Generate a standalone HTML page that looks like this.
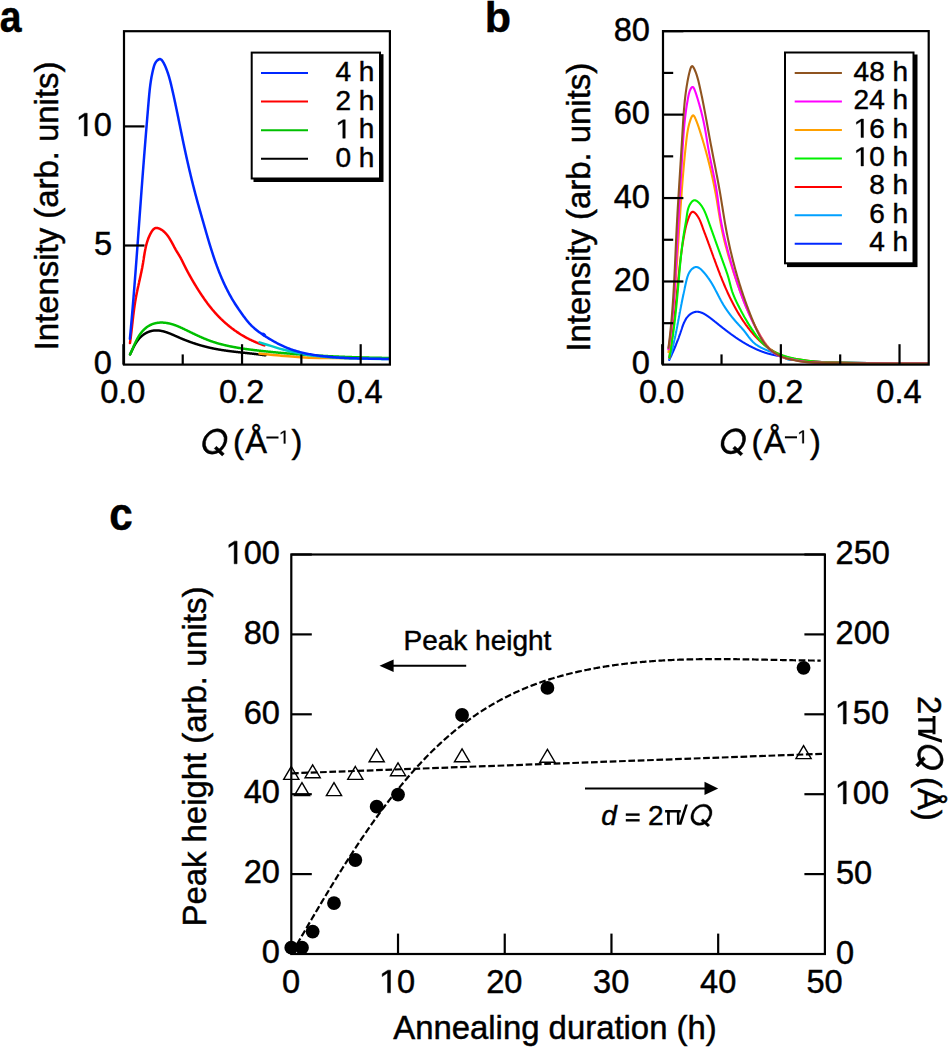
<!DOCTYPE html>
<html><head><meta charset="utf-8"><style>
html,body{margin:0;padding:0;background:#fff;}
svg{display:block;}
text{font-family:"Liberation Sans", sans-serif;fill:#000;white-space:pre;stroke:#000;stroke-width:0.45;}
.g1{stroke:#000;stroke-width:30.7;}
.gq{stroke:#000;stroke-width:15.0;}
</style></head><body>
<svg width="950" height="1047" viewBox="0 0 950 1047">
<rect width="950" height="1047" fill="#fff"/>
<g transform="matrix(0.91,0,0,1.05,0.090,-1.580)">
<text x="-0.26" y="31.60" font-size="43" font-weight="bold" >a</text>
</g>
<text x="484.77" y="31.60" font-size="43" font-weight="bold" >b</text>
<g transform="matrix(0.98,0,0,1.07,2.218,-37.072)">
<text x="109.22" y="529.60" font-size="43" font-weight="bold" >c</text>
</g>
<g fill="none" stroke-linejoin="round" stroke-linecap="round">
<path d="M130.06,354.39 L130.17,354.16 L130.28,353.94 L130.38,353.71 L130.49,353.49 L130.60,353.26 L130.71,353.03 L130.81,352.81 L130.92,352.58 L131.03,352.35 L131.14,352.12 L131.24,351.89 L131.35,351.67 L131.46,351.44 L131.57,351.21 L131.68,350.98 L131.79,350.75 L131.90,350.52 L132.00,350.29 L132.11,350.06 L132.22,349.83 L132.33,349.60 L132.45,349.37 L132.56,349.15 L132.67,348.92 L132.78,348.69 L132.89,348.46 L133.01,348.23 L133.12,348.00 L133.24,347.77 L133.35,347.55 L133.47,347.32 L133.58,347.09 L133.70,346.87 L133.82,346.64 L133.94,346.41 L134.06,346.19 L134.18,345.96 L134.30,345.74 L134.42,345.52 L134.54,345.29 L134.67,345.07 L134.79,344.85 L134.92,344.63 L135.04,344.41 L135.17,344.19 L135.30,343.97 L135.43,343.75 L135.56,343.53 L135.69,343.31 L135.82,343.10 L135.96,342.88 L136.09,342.67 L136.23,342.46 L136.37,342.24 L136.51,342.03 L136.65,341.82 L136.79,341.61 L136.93,341.40 L137.08,341.20 L137.22,340.99 L137.37,340.79 L137.52,340.58 L137.67,340.38 L137.82,340.18 L137.97,339.98 L138.13,339.78 L138.28,339.58 L138.44,339.39 L138.60,339.19 L138.76,339.00 L138.93,338.81 L139.09,338.62 L139.26,338.43 L139.43,338.24 L139.60,338.05 L139.77,337.87 L139.94,337.69 L140.12,337.50 L140.29,337.32 L140.47,337.15 L140.65,336.97 L140.84,336.80 L141.02,336.62 L141.21,336.45 L141.40,336.28 L141.59,336.12 L141.78,335.95 L141.98,335.79 L142.18,335.63 L142.38,335.47 L142.58,335.31 L142.78,335.15 L142.99,335.00 L143.19,334.85 L143.40,334.70 L143.61,334.55 L143.82,334.40 L144.03,334.26 L144.25,334.12 L144.46,333.98 L144.68,333.84 L144.90,333.71 L145.12,333.58 L145.34,333.45 L145.56,333.32 L145.79,333.20 L146.01,333.07 L146.24,332.95 L146.46,332.84 L146.69,332.72 L146.92,332.61 L147.15,332.50 L147.38,332.39 L147.61,332.29 L147.84,332.19 L148.07,332.09 L148.30,331.99 L148.54,331.90 L148.77,331.80 L149.01,331.72 L149.24,331.63 L149.48,331.55 L149.71,331.47 L149.95,331.39 L150.18,331.31 L150.42,331.24 L150.66,331.18 L150.89,331.11 L151.13,331.05 L151.37,330.99 L151.60,330.93 L151.84,330.88 L152.08,330.83 L152.31,330.78 L152.55,330.74 L152.79,330.70 L153.02,330.66 L153.26,330.62 L153.50,330.59 L153.73,330.56 L153.97,330.53 L154.20,330.51 L154.44,330.48 L154.68,330.47 L154.91,330.45 L155.15,330.44 L155.39,330.42 L155.62,330.42 L155.86,330.41 L156.10,330.41 L156.33,330.40 L156.57,330.41 L156.81,330.41 L157.04,330.42 L157.28,330.42 L157.51,330.44 L157.75,330.45 L157.99,330.46 L158.22,330.48 L158.46,330.50 L158.70,330.52 L158.93,330.55 L159.17,330.57 L159.40,330.60 L159.64,330.63 L159.88,330.67 L160.11,330.70 L160.35,330.74 L160.59,330.78 L160.82,330.82 L161.06,330.86 L161.29,330.90 L161.53,330.95 L161.77,331.00 L162.00,331.05 L162.24,331.10 L162.48,331.15 L162.71,331.21 L162.95,331.27 L163.18,331.32 L163.42,331.39 L163.66,331.45 L163.89,331.51 L164.13,331.57 L164.37,331.64 L164.60,331.71 L164.84,331.78 L165.07,331.85 L165.31,331.92 L165.55,331.99 L165.78,332.07 L166.02,332.15 L166.26,332.22 L166.49,332.30 L166.73,332.38 L166.97,332.46 L167.20,332.54 L167.44,332.63 L167.67,332.71 L167.91,332.80 L168.15,332.89 L168.38,332.97 L168.62,333.06 L168.86,333.15 L169.09,333.24 L169.33,333.33 L169.57,333.43 L169.80,333.52 L170.04,333.61 L170.28,333.71 L170.51,333.80 L170.75,333.90 L170.99,334.00 L171.22,334.09 L171.46,334.19 L171.70,334.29 L171.93,334.39 L172.17,334.49 L172.41,334.59 L172.64,334.69 L172.88,334.80 L173.12,334.90 L173.35,335.00 L173.59,335.10 L173.83,335.21 L174.06,335.31 L174.30,335.41 L174.54,335.52 L174.77,335.62 L175.01,335.73 L175.25,335.83 L175.49,335.94 L175.72,336.04 L175.96,336.15 L176.20,336.25 L176.43,336.36 L176.67,336.46 L176.91,336.57 L177.15,336.68 L177.38,336.78 L177.62,336.89 L177.86,336.99 L178.09,337.10 L178.33,337.20 L178.57,337.31 L178.81,337.41 L179.04,337.51 L179.28,337.62 L179.52,337.72 L179.76,337.82 L179.99,337.93 L180.23,338.03 L180.47,338.13 L180.71,338.23 L180.94,338.33 L181.18,338.44 L181.42,338.54 L181.66,338.64 L181.90,338.74 L182.13,338.84 L182.37,338.93 L182.61,339.03 L182.85,339.13 L183.09,339.23 L183.32,339.33 L183.56,339.42 L183.80,339.52 L184.04,339.62 L184.28,339.71 L184.52,339.81 L184.75,339.90 L184.99,340.00 L185.23,340.09 L185.47,340.18 L185.71,340.28 L185.95,340.37 L186.18,340.46 L186.42,340.56 L186.66,340.65 L186.90,340.74 L187.14,340.83 L187.38,340.92 L187.62,341.01 L187.85,341.10 L188.09,341.19 L188.33,341.28 L188.57,341.37 L188.81,341.46 L189.05,341.55 L189.29,341.63 L189.53,341.72 L189.77,341.81 L190.01,341.90 L190.24,341.98 L190.48,342.07 L190.72,342.15 L190.96,342.24 L191.20,342.32 L191.44,342.41 L191.68,342.49 L191.92,342.57 L192.16,342.66 L192.40,342.74 L192.64,342.82 L192.88,342.90 L193.12,342.99 L193.36,343.07 L193.60,343.15 L193.84,343.23 L194.08,343.31 L194.32,343.39 L194.56,343.47 L194.80,343.55 L195.04,343.63 L195.28,343.70 L195.52,343.78 L195.76,343.86 L196.00,343.94 L196.24,344.01 L196.48,344.09 L196.72,344.16 L196.96,344.24 L197.20,344.32 L197.44,344.39 L197.68,344.46 L197.92,344.54 L198.16,344.61 L198.40,344.69 L198.64,344.76 L198.88,344.83 L199.12,344.90 L199.36,344.97 L199.60,345.05 L199.84,345.12 L200.08,345.19 L200.32,345.26 L200.56,345.33 L200.81,345.40 L201.05,345.47 L201.29,345.54 L201.53,345.60 L201.77,345.67 L202.01,345.74 L202.25,345.81 L202.49,345.87 L202.73,345.94 L202.98,346.01 L203.22,346.07 L203.46,346.14 L203.70,346.20 L203.94,346.27 L204.18,346.33 L204.42,346.39 L204.67,346.46 L204.91,346.52 L205.15,346.58 L205.39,346.65 L205.63,346.71 L205.87,346.77 L206.12,346.83 L206.36,346.89 L206.60,346.95 L206.84,347.01 L207.08,347.07 L207.33,347.13 L207.57,347.19 L207.81,347.25 L208.05,347.31 L208.30,347.37 L208.54,347.42 L208.78,347.48 L209.02,347.54 L209.27,347.59 L209.51,347.65 L209.75,347.71 L209.99,347.76 L210.24,347.82 L210.48,347.87 L210.72,347.92 L210.96,347.98 L211.21,348.03 L211.45,348.09 L211.69,348.14 L211.94,348.19 L212.18,348.24 L212.42,348.29 L212.66,348.35 L212.91,348.40 L213.15,348.45 L213.39,348.50 L213.64,348.55 L213.88,348.60 L214.12,348.65 L214.37,348.69 L214.61,348.74 L214.85,348.79 L215.10,348.84 L215.34,348.89 L215.59,348.93 L215.83,348.98 L216.07,349.02 L216.32,349.07 L216.56,349.12 L216.80,349.16 L217.05,349.21 L217.29,349.25 L217.54,349.30 L217.78,349.34 L218.02,349.38 L218.27,349.43 L218.51,349.47 L218.76,349.51 L219.00,349.55 L219.25,349.60 L219.49,349.64 L219.74,349.68 L219.98,349.72 L220.22,349.76 L220.47,349.80 L220.71,349.84 L220.96,349.88 L221.20,349.92 L221.45,349.96 L221.69,350.00 L221.94,350.04 L222.18,350.08 L222.43,350.12 L222.67,350.15 L222.92,350.19 L223.16,350.23 L223.41,350.27 L223.65,350.30 L223.90,350.34 L224.15,350.38 L224.39,350.41 L224.64,350.45 L224.88,350.48 L225.13,350.52 L225.37,350.56 L225.62,350.59 L225.86,350.63 L226.11,350.66 L226.36,350.69 L226.60,350.73 L226.85,350.76 L227.09,350.80 L227.34,350.83 L227.59,350.86 L227.83,350.90 L228.08,350.93 L228.33,350.96 L228.57,350.99 L228.82,351.03 L229.06,351.06 L229.31,351.09 L229.56,351.12 L229.80,351.15 L230.05,351.19 L230.30,351.22 L230.54,351.25 L230.79,351.28 L231.04,351.31 L231.28,351.34 L231.53,351.37 L231.78,351.40 L232.03,351.43 L232.27,351.46 L232.52,351.49 L232.77,351.52 L233.02,351.55 L233.26,351.58 L233.51,351.61 L233.76,351.64 L234.01,351.67 L234.25,351.70 L234.50,351.73 L234.75,351.76 L235.00,351.78 L235.24,351.81 L235.49,351.84 L235.74,351.87 L235.99,351.90 L236.24,351.93 L236.48,351.95 L236.73,351.98 L236.98,352.01 L237.23,352.04 L237.48,352.07 L237.73,352.09 L237.97,352.12 L238.22,352.15 L238.47,352.18 L238.72,352.20 L238.97,352.23 L239.22,352.26 L239.47,352.28 L239.71,352.31 L239.96,352.34 L240.21,352.37 L240.46,352.39 L240.71,352.42 L240.96,352.45 L241.21,352.47 L241.46,352.50 L241.71,352.53 L241.96,352.55 L242.21,352.58 L242.46,352.61 L242.70,352.63 L242.95,352.66 L243.20,352.69 L243.45,352.71 L243.70,352.74 L243.95,352.77 L244.20,352.79 L244.45,352.82 L244.70,352.85 L244.95,352.87 L245.20,352.90 L245.45,352.93 L245.70,352.95 L245.95,352.98 L246.20,353.01 L246.46,353.03 L246.71,353.06 L246.96,353.09 L247.21,353.11 L247.46,353.14 L247.71,353.17 L247.96,353.19 L248.21,353.22 L248.46,353.25 L248.71,353.27 L248.96,353.30 L249.21,353.33 L249.47,353.36 L249.72,353.38 L249.97,353.41 L250.22,353.44 L250.47,353.47 L250.72,353.49 L250.97,353.52 L251.23,353.55 L251.48,353.58 L251.73,353.60 L251.98,353.63 L252.23,353.66 L252.48,353.69 L252.74,353.72 L252.99,353.75 L253.24,353.77 L253.49,353.80 L253.74,353.83 L254.00,353.86 L254.25,353.89 L254.50,353.92 L254.75,353.95 L255.01,353.98 L255.26,354.01 L255.51,354.04 L255.76,354.07 L256.02,354.10 L256.27,354.13 L256.52,354.16 L256.78,354.19 L257.03,354.22 L257.28,354.25 L257.54,354.28 L257.79,354.31 L258.04,354.34 L258.30,354.37 L258.55,354.40 L258.80,354.44 L259.06,354.47 L259.31,354.50 L259.56,354.53 L259.82,354.56 L260.07,354.60 L260.32,354.63 L260.58,354.66 L260.83,354.70 L261.09,354.73 L261.34,354.76 L261.59,354.80 L261.85,354.83 L262.10,354.86 L262.36,354.90 L262.61,354.93 L262.87,354.97 L263.12,355.00 L263.38,355.04 L263.63,355.07 L263.89,355.11 L264.14,355.15 L264.40,355.18 L264.65,355.22 L264.91,355.26 L265.16,355.29 L265.42,355.33" stroke="#000" stroke-width="2.5"/>
<path d="M259.50,353.60 C262.92,353.93 272.42,354.97 280.00,355.60 C287.58,356.23 296.67,357.00 305.00,357.40 C313.33,357.80 316.00,357.80 330.00,358.00 C344.00,358.20 379.17,358.50 389.00,358.60" stroke="#FF9900" stroke-width="2.5"/>
<path d="M130.11,354.43 L130.30,354.01 L130.49,353.60 L130.68,353.18 L130.88,352.76 L131.06,352.34 L131.25,351.91 L131.44,351.48 L131.63,351.05 L131.82,350.62 L132.01,350.19 L132.19,349.76 L132.38,349.32 L132.57,348.89 L132.76,348.45 L132.95,348.01 L133.14,347.57 L133.33,347.14 L133.52,346.70 L133.71,346.26 L133.90,345.82 L134.09,345.38 L134.29,344.94 L134.49,344.50 L134.68,344.06 L134.88,343.62 L135.08,343.18 L135.29,342.75 L135.49,342.31 L135.70,341.88 L135.91,341.44 L136.12,341.01 L136.34,340.58 L136.55,340.15 L136.77,339.73 L137.00,339.30 L137.22,338.88 L137.45,338.46 L137.68,338.04 L137.92,337.63 L138.16,337.21 L138.40,336.80 L138.65,336.40 L138.90,335.99 L139.15,335.59 L139.41,335.20 L139.67,334.80 L139.94,334.41 L140.21,334.03 L140.48,333.65 L140.76,333.27 L141.05,332.89 L141.34,332.53 L141.63,332.16 L141.93,331.80 L142.24,331.45 L142.55,331.10 L142.86,330.75 L143.18,330.41 L143.51,330.08 L143.84,329.75 L144.17,329.43 L144.51,329.11 L144.86,328.80 L145.20,328.49 L145.56,328.19 L145.91,327.90 L146.28,327.62 L146.64,327.34 L147.01,327.06 L147.39,326.80 L147.76,326.54 L148.15,326.29 L148.53,326.05 L148.92,325.81 L149.32,325.58 L149.72,325.36 L150.12,325.15 L150.53,324.94 L150.94,324.75 L151.35,324.56 L151.77,324.38 L152.19,324.21 L152.61,324.04 L153.04,323.89 L153.47,323.75 L153.90,323.61 L154.34,323.49 L154.78,323.37 L155.22,323.26 L155.67,323.16 L156.12,323.07 L156.57,322.98 L157.02,322.91 L157.47,322.84 L157.93,322.78 L158.39,322.73 L158.85,322.69 L159.31,322.65 L159.77,322.62 L160.23,322.60 L160.70,322.59 L161.16,322.58 L161.63,322.58 L162.09,322.59 L162.56,322.60 L163.03,322.62 L163.49,322.65 L163.96,322.68 L164.42,322.72 L164.89,322.77 L165.35,322.82 L165.82,322.88 L166.28,322.94 L166.74,323.01 L167.20,323.09 L167.66,323.17 L168.12,323.25 L168.57,323.35 L169.03,323.44 L169.48,323.54 L169.93,323.65 L170.38,323.76 L170.83,323.88 L171.27,324.00 L171.72,324.13 L172.16,324.25 L172.61,324.39 L173.05,324.53 L173.49,324.67 L173.93,324.81 L174.36,324.96 L174.80,325.12 L175.24,325.27 L175.67,325.43 L176.11,325.60 L176.54,325.76 L176.97,325.93 L177.40,326.11 L177.84,326.28 L178.27,326.46 L178.70,326.64 L179.12,326.82 L179.55,327.01 L179.98,327.20 L180.41,327.39 L180.84,327.58 L181.26,327.77 L181.69,327.97 L182.12,328.17 L182.54,328.37 L182.97,328.57 L183.40,328.77 L183.82,328.97 L184.25,329.17 L184.68,329.38 L185.10,329.59 L185.53,329.79 L185.95,330.00 L186.38,330.21 L186.81,330.41 L187.24,330.62 L187.66,330.83 L188.09,331.04 L188.52,331.25 L188.95,331.46 L189.38,331.67 L189.81,331.87 L190.24,332.08 L190.67,332.29 L191.10,332.50 L191.53,332.71 L191.96,332.92 L192.39,333.13 L192.82,333.33 L193.25,333.54 L193.68,333.75 L194.12,333.95 L194.55,334.16 L194.98,334.37 L195.41,334.57 L195.85,334.78 L196.28,334.98 L196.71,335.18 L197.15,335.39 L197.58,335.59 L198.02,335.79 L198.45,335.99 L198.89,336.19 L199.32,336.38 L199.76,336.58 L200.20,336.78 L200.63,336.97 L201.07,337.17 L201.51,337.36 L201.94,337.55 L202.38,337.74 L202.82,337.93 L203.26,338.12 L203.70,338.30 L204.13,338.49 L204.57,338.67 L205.01,338.85 L205.45,339.03 L205.89,339.21 L206.33,339.39 L206.77,339.57 L207.21,339.74 L207.65,339.91 L208.09,340.08 L208.54,340.25 L208.98,340.42 L209.42,340.58 L209.86,340.74 L210.30,340.90 L210.75,341.06 L211.19,341.22 L211.63,341.37 L212.08,341.53 L212.52,341.68 L212.96,341.83 L213.41,341.97 L213.85,342.12 L214.30,342.26 L214.74,342.40 L215.19,342.54 L215.63,342.68 L216.08,342.81 L216.52,342.95 L216.97,343.08 L217.41,343.21 L217.86,343.34 L218.31,343.47 L218.75,343.60 L219.20,343.72 L219.65,343.84 L220.10,343.96 L220.55,344.08 L220.99,344.20 L221.44,344.32 L221.89,344.44 L222.34,344.55 L222.79,344.66 L223.24,344.78 L223.69,344.89 L224.14,345.00 L224.59,345.10 L225.04,345.21 L225.49,345.32 L225.94,345.42 L226.39,345.52 L226.84,345.62 L227.29,345.73 L227.74,345.83 L228.19,345.92 L228.64,346.02 L229.10,346.12 L229.55,346.21 L230.00,346.31 L230.45,346.40 L230.91,346.49 L231.36,346.58 L231.81,346.67 L232.27,346.76 L232.72,346.85 L233.17,346.93 L233.63,347.02 L234.08,347.10 L234.54,347.19 L234.99,347.27 L235.45,347.35 L235.90,347.43 L236.36,347.51 L236.81,347.59 L237.27,347.67 L237.72,347.75 L238.18,347.83 L238.63,347.90 L239.09,347.98 L239.55,348.05 L240.00,348.12 L240.46,348.20 L240.92,348.27 L241.38,348.34 L241.83,348.41 L242.29,348.48 L242.75,348.55 L243.21,348.62 L243.66,348.69 L244.12,348.75 L244.58,348.82 L245.04,348.88 L245.50,348.95 L245.96,349.01 L246.42,349.08 L246.88,349.14 L247.33,349.20 L247.79,349.26 L248.25,349.33 L248.71,349.39 L249.17,349.45 L249.63,349.51 L250.09,349.57 L250.56,349.63 L251.02,349.68 L251.48,349.74 L251.94,349.80 L252.40,349.86 L252.86,349.91 L253.32,349.97 L253.78,350.03 L254.24,350.08 L254.71,350.14 L255.17,350.19 L255.63,350.25 L256.09,350.30 L256.56,350.35 L257.02,350.41 L257.48,350.46 L257.94,350.52 L258.41,350.57 L258.87,350.62 L259.33,350.67 L259.80,350.73 L260.26,350.78 L260.72,350.83 L261.19,350.88 L261.65,350.93 L262.12,350.98 L262.58,351.03 L263.04,351.08 L263.51,351.13 L263.97,351.19 L264.44,351.24 L264.90,351.28 L265.37,351.33 L265.83,351.38 L266.30,351.43 L266.76,351.48 L267.23,351.53 L267.69,351.58 L268.16,351.63 L268.63,351.67 L269.09,351.72 L269.56,351.77 L270.02,351.82 L270.49,351.86 L270.96,351.91 L271.42,351.96 L271.89,352.00 L272.36,352.05 L272.82,352.10 L273.29,352.14 L273.76,352.19 L274.22,352.23 L274.69,352.28 L275.16,352.32 L275.62,352.37 L276.09,352.41 L276.56,352.46 L277.03,352.50 L277.49,352.54 L277.96,352.59 L278.43,352.63 L278.90,352.68 L279.37,352.72 L279.83,352.76 L280.30,352.80 L280.77,352.85 L281.24,352.89 L281.71,352.93 L282.18,352.97 L282.64,353.01 L283.11,353.06 L283.58,353.10 L284.05,353.14 L284.52,353.18 L284.99,353.22 L285.46,353.26 L285.93,353.30 L286.40,353.34 L286.87,353.38 L287.33,353.42 L287.80,353.46 L288.27,353.50 L288.74,353.54 L289.21,353.57 L289.68,353.61 L290.15,353.65 L290.62,353.69 L291.09,353.73 L291.56,353.77 L292.03,353.80 L292.50,353.84 L292.97,353.88 L293.44,353.91 L293.91,353.95 L294.38,353.99 L294.85,354.02 L295.32,354.06 L295.79,354.10 L296.26,354.13 L296.73,354.17 L297.20,354.20 L297.68,354.24 L298.15,354.27 L298.62,354.31 L299.09,354.34 L299.56,354.38 L300.03,354.41 L300.50,354.44 L300.97,354.48 L301.44,354.51 L301.91,354.55 L302.38,354.58 L302.85,354.61 L303.33,354.65 L303.80,354.68 L304.27,354.71 L304.74,354.74 L305.21,354.78 L305.68,354.81 L306.15,354.84 L306.62,354.87 L307.09,354.90 L307.57,354.93 L308.04,354.96 L308.51,355.00 L308.98,355.03 L309.45,355.06 L309.92,355.09 L310.39,355.12 L310.87,355.15 L311.34,355.18 L311.81,355.21 L312.28,355.24 L312.75,355.27 L313.22,355.29 L313.69,355.32 L314.16,355.35 L314.64,355.38 L315.11,355.41 L315.58,355.44 L316.05,355.47 L316.52,355.49 L316.99,355.52 L317.46,355.55 L317.94,355.58 L318.41,355.60 L318.88,355.63 L319.35,355.66 L319.82,355.68 L320.29,355.71 L320.76,355.74 L321.24,355.76 L321.71,355.79 L322.18,355.81 L322.65,355.84 L323.12,355.87 L323.59,355.89 L324.06,355.92 L324.54,355.94 L325.01,355.97 L325.48,355.99 L325.95,356.01 L326.42,356.04 L326.89,356.06 L327.36,356.09 L327.83,356.11 L328.30,356.13 L328.78,356.16 L329.25,356.18 L329.72,356.20 L330.19,356.23 L330.66,356.25 L331.13,356.27 L331.60,356.30 L332.07,356.32 L332.54,356.34 L333.01,356.36 L333.48,356.38 L333.96,356.41 L334.43,356.43 L334.90,356.45 L335.37,356.47 L335.84,356.49 L336.31,356.51 L336.78,356.53 L337.25,356.55 L337.72,356.57 L338.19,356.59 L338.66,356.61 L339.13,356.63 L339.60,356.65 L340.07,356.67 L340.54,356.69 L341.01,356.71 L341.48,356.73 L341.95,356.75 L342.42,356.77 L342.89,356.79 L343.36,356.81 L343.83,356.83 L344.30,356.84 L344.77,356.86 L345.24,356.88 L345.71,356.90 L346.17,356.92 L346.64,356.93 L347.11,356.95 L347.58,356.97 L348.05,356.99 L348.52,357.00 L348.99,357.02 L349.46,357.04 L349.93,357.05 L350.39,357.07 L350.86,357.09 L351.33,357.10 L351.80,357.12 L352.27,357.13 L352.74,357.15 L353.20,357.16 L353.67,357.18 L354.14,357.20 L354.61,357.21 L355.08,357.23 L355.54,357.24 L356.01,357.26 L356.48,357.27 L356.95,357.28 L357.41,357.30 L357.88,357.31 L358.35,357.33 L358.81,357.34 L359.28,357.36 L359.75,357.37 L360.21,357.38 L360.68,357.40 L361.15,357.41 L361.61,357.42 L362.08,357.44 L362.55,357.45 L363.01,357.46 L363.48,357.47 L363.94,357.49 L364.41,357.50 L364.87,357.51 L365.34,357.52 L365.80,357.53 L366.27,357.55 L366.73,357.56 L367.20,357.57 L367.66,357.58 L368.13,357.59 L368.59,357.60 L369.06,357.62 L369.52,357.63 L369.99,357.64 L370.45,357.65 L370.91,357.66 L371.38,357.67 L371.84,357.68 L372.31,357.69 L372.77,357.70 L373.23,357.71 L373.70,357.72 L374.16,357.73 L374.62,357.74 L375.08,357.75 L375.55,357.76 L376.01,357.77 L376.47,357.78 L376.93,357.79 L377.40,357.79 L377.86,357.80 L378.32,357.81 L378.78,357.82 L379.24,357.83 L379.70,357.84 L380.17,357.85 L380.63,357.85 L381.09,357.86 L381.55,357.87 L382.01,357.88 L382.47,357.88 L382.93,357.89 L383.39,357.90 L383.85,357.91 L384.31,357.91 L384.77,357.92 L385.23,357.93 L385.69,357.94 L386.15,357.94 L386.61,357.95 L387.06,357.96 L387.52,357.96 L387.98,357.97 L388.44,357.97 L388.90,357.98" stroke="#00C000" stroke-width="2.5"/>
<path d="M129.98,343.06 L130.05,342.58 L130.12,342.09 L130.18,341.61 L130.25,341.13 L130.31,340.65 L130.38,340.16 L130.44,339.68 L130.50,339.20 L130.57,338.72 L130.63,338.24 L130.69,337.76 L130.75,337.28 L130.81,336.80 L130.87,336.32 L130.93,335.84 L130.99,335.36 L131.04,334.88 L131.10,334.40 L131.16,333.93 L131.22,333.45 L131.27,332.97 L131.33,332.49 L131.38,332.02 L131.44,331.54 L131.49,331.06 L131.55,330.59 L131.60,330.11 L131.66,329.63 L131.71,329.16 L131.77,328.68 L131.82,328.21 L131.88,327.73 L131.93,327.26 L131.98,326.78 L132.04,326.31 L132.09,325.84 L132.14,325.36 L132.20,324.89 L132.25,324.41 L132.30,323.94 L132.36,323.47 L132.41,323.00 L132.46,322.52 L132.52,322.05 L132.57,321.58 L132.62,321.11 L132.68,320.63 L132.73,320.16 L132.79,319.69 L132.84,319.22 L132.90,318.75 L132.95,318.28 L133.01,317.81 L133.06,317.34 L133.12,316.87 L133.17,316.40 L133.23,315.93 L133.29,315.46 L133.34,314.99 L133.40,314.52 L133.46,314.05 L133.52,313.58 L133.58,313.11 L133.64,312.64 L133.69,312.17 L133.76,311.70 L133.82,311.23 L133.88,310.76 L133.94,310.30 L134.00,309.83 L134.06,309.36 L134.13,308.89 L134.19,308.42 L134.26,307.95 L134.32,307.49 L134.39,307.02 L134.46,306.55 L134.52,306.08 L134.59,305.62 L134.66,305.15 L134.73,304.68 L134.80,304.21 L134.87,303.75 L134.95,303.28 L135.02,302.81 L135.09,302.34 L135.17,301.88 L135.24,301.41 L135.32,300.94 L135.40,300.48 L135.48,300.01 L135.56,299.54 L135.64,299.08 L135.72,298.61 L135.80,298.14 L135.89,297.68 L135.97,297.21 L136.06,296.74 L136.15,296.28 L136.24,295.81 L136.33,295.34 L136.42,294.88 L136.51,294.41 L136.60,293.94 L136.69,293.48 L136.79,293.01 L136.88,292.54 L136.98,292.08 L137.07,291.61 L137.17,291.14 L137.27,290.68 L137.37,290.21 L137.47,289.74 L137.57,289.28 L137.67,288.81 L137.77,288.34 L137.87,287.87 L137.97,287.41 L138.07,286.94 L138.17,286.47 L138.28,286.01 L138.38,285.54 L138.48,285.07 L138.59,284.60 L138.69,284.14 L138.80,283.67 L138.90,283.20 L139.00,282.73 L139.11,282.27 L139.21,281.80 L139.32,281.33 L139.42,280.86 L139.53,280.40 L139.63,279.93 L139.73,279.46 L139.84,278.99 L139.94,278.52 L140.05,278.05 L140.15,277.58 L140.25,277.12 L140.35,276.65 L140.46,276.18 L140.56,275.71 L140.66,275.24 L140.76,274.77 L140.86,274.30 L140.96,273.83 L141.06,273.36 L141.16,272.89 L141.26,272.42 L141.36,271.95 L141.45,271.48 L141.55,271.01 L141.64,270.54 L141.74,270.07 L141.83,269.60 L141.92,269.12 L142.02,268.65 L142.11,268.18 L142.20,267.71 L142.29,267.24 L142.37,266.76 L142.46,266.29 L142.55,265.82 L142.63,265.35 L142.71,264.87 L142.80,264.40 L142.88,263.93 L142.96,263.45 L143.04,262.98 L143.11,262.50 L143.19,262.03 L143.27,261.56 L143.34,261.08 L143.42,260.61 L143.49,260.13 L143.56,259.66 L143.64,259.19 L143.71,258.71 L143.79,258.24 L143.86,257.76 L143.93,257.29 L144.01,256.82 L144.08,256.34 L144.16,255.87 L144.23,255.40 L144.31,254.92 L144.38,254.45 L144.46,253.98 L144.54,253.51 L144.62,253.04 L144.70,252.56 L144.78,252.09 L144.87,251.62 L144.95,251.15 L145.04,250.69 L145.13,250.22 L145.22,249.75 L145.31,249.28 L145.41,248.82 L145.50,248.35 L145.60,247.88 L145.70,247.42 L145.81,246.96 L145.91,246.49 L146.02,246.03 L146.13,245.57 L146.25,245.11 L146.37,244.65 L146.49,244.19 L146.61,243.73 L146.74,243.27 L146.87,242.82 L147.00,242.36 L147.14,241.91 L147.28,241.46 L147.43,241.00 L147.58,240.55 L147.73,240.10 L147.89,239.66 L148.05,239.21 L148.21,238.76 L148.39,238.32 L148.56,237.87 L148.74,237.43 L148.92,236.99 L149.11,236.55 L149.31,236.11 L149.51,235.67 L149.71,235.24 L149.92,234.80 L150.14,234.37 L150.36,233.94 L150.59,233.51 L150.82,233.08 L151.06,232.66 L151.30,232.23 L151.55,231.81 L151.81,231.40 L152.07,231.00 L152.35,230.61 L152.63,230.23 L152.92,229.87 L153.22,229.54 L153.53,229.23 L153.85,228.94 L154.18,228.68 L154.52,228.46 L154.88,228.27 L155.25,228.11 L155.63,228.00 L156.02,227.93 L156.43,227.90 L156.86,227.92 L157.29,227.99 L157.74,228.09 L158.18,228.22 L158.62,228.37 L159.06,228.53 L159.49,228.71 L159.92,228.91 L160.34,229.11 L160.75,229.33 L161.15,229.56 L161.55,229.80 L161.94,230.06 L162.33,230.32 L162.70,230.59 L163.08,230.88 L163.44,231.17 L163.80,231.47 L164.16,231.79 L164.50,232.11 L164.84,232.43 L165.18,232.77 L165.51,233.11 L165.83,233.47 L166.14,233.82 L166.45,234.19 L166.76,234.56 L167.06,234.93 L167.35,235.31 L167.64,235.70 L167.93,236.09 L168.21,236.49 L168.49,236.89 L168.76,237.29 L169.02,237.69 L169.29,238.10 L169.54,238.51 L169.80,238.93 L170.05,239.34 L170.30,239.76 L170.54,240.18 L170.79,240.59 L171.02,241.01 L171.26,241.43 L171.49,241.85 L171.72,242.27 L171.95,242.68 L172.18,243.10 L172.40,243.52 L172.63,243.94 L172.85,244.35 L173.07,244.77 L173.30,245.19 L173.52,245.61 L173.74,246.02 L173.96,246.44 L174.18,246.86 L174.41,247.27 L174.63,247.69 L174.86,248.11 L175.09,248.53 L175.32,248.94 L175.55,249.36 L175.78,249.78 L176.02,250.19 L176.26,250.61 L176.51,251.03 L176.75,251.44 L177.00,251.86 L177.26,252.28 L177.51,252.69 L177.77,253.11 L178.02,253.53 L178.28,253.94 L178.54,254.36 L178.79,254.78 L179.05,255.19 L179.30,255.61 L179.55,256.03 L179.80,256.44 L180.05,256.86 L180.29,257.28 L180.53,257.69 L180.76,258.11 L180.98,258.53 L181.21,258.94 L181.42,259.36 L181.64,259.78 L181.85,260.19 L182.05,260.61 L182.26,261.03 L182.46,261.45 L182.66,261.86 L182.86,262.28 L183.06,262.70 L183.27,263.12 L183.47,263.53 L183.67,263.95 L183.88,264.37 L184.08,264.79 L184.29,265.21 L184.50,265.62 L184.71,266.04 L184.92,266.46 L185.13,266.88 L185.34,267.30 L185.56,267.72 L185.77,268.13 L185.99,268.55 L186.20,268.97 L186.42,269.39 L186.64,269.81 L186.86,270.22 L187.08,270.64 L187.30,271.06 L187.52,271.48 L187.74,271.90 L187.97,272.31 L188.19,272.73 L188.42,273.15 L188.64,273.57 L188.87,273.98 L189.10,274.40 L189.33,274.82 L189.56,275.23 L189.79,275.65 L190.02,276.07 L190.25,276.48 L190.49,276.90 L190.72,277.31 L190.96,277.73 L191.19,278.14 L191.43,278.56 L191.67,278.97 L191.90,279.39 L192.14,279.80 L192.38,280.22 L192.62,280.63 L192.87,281.04 L193.11,281.46 L193.35,281.87 L193.59,282.28 L193.84,282.69 L194.08,283.10 L194.33,283.51 L194.57,283.92 L194.82,284.34 L195.07,284.75 L195.32,285.15 L195.57,285.56 L195.82,285.97 L196.07,286.38 L196.32,286.79 L196.57,287.20 L196.82,287.60 L197.07,288.01 L197.33,288.41 L197.58,288.82 L197.84,289.23 L198.09,289.63 L198.35,290.03 L198.60,290.44 L198.86,290.84 L199.12,291.24 L199.38,291.64 L199.63,292.04 L199.89,292.45 L200.15,292.85 L200.41,293.24 L200.68,293.64 L200.94,294.04 L201.20,294.44 L201.47,294.84 L201.73,295.23 L202.00,295.63 L202.26,296.02 L202.53,296.42 L202.80,296.81 L203.07,297.20 L203.33,297.60 L203.61,297.99 L203.88,298.38 L204.15,298.77 L204.42,299.16 L204.70,299.54 L204.97,299.93 L205.25,300.32 L205.52,300.71 L205.80,301.09 L206.08,301.48 L206.36,301.86 L206.64,302.24 L206.92,302.62 L207.20,303.01 L207.49,303.39 L207.77,303.77 L208.06,304.14 L208.35,304.52 L208.63,304.90 L208.92,305.27 L209.21,305.65 L209.51,306.02 L209.80,306.40 L210.09,306.77 L210.39,307.14 L210.68,307.51 L210.98,307.88 L211.28,308.25 L211.58,308.62 L211.88,308.98 L212.18,309.35 L212.49,309.71 L212.79,310.08 L213.10,310.44 L213.41,310.80 L213.72,311.16 L214.03,311.52 L214.34,311.88 L214.65,312.23 L214.97,312.59 L215.28,312.94 L215.60,313.30 L215.92,313.65 L216.24,314.00 L216.56,314.35 L216.89,314.70 L217.21,315.05 L217.54,315.40 L217.86,315.74 L218.19,316.09 L218.52,316.43 L218.86,316.77 L219.19,317.11 L219.53,317.45 L219.86,317.79 L220.20,318.13 L220.54,318.46 L220.88,318.80 L221.23,319.13 L221.57,319.46 L221.91,319.79 L222.26,320.12 L222.61,320.45 L222.96,320.78 L223.31,321.10 L223.66,321.43 L224.02,321.75 L224.37,322.07 L224.73,322.39 L225.09,322.71 L225.45,323.03 L225.81,323.34 L226.17,323.66 L226.53,323.97 L226.90,324.28 L227.26,324.59 L227.63,324.90 L228.00,325.21 L228.37,325.51 L228.74,325.82 L229.11,326.12 L229.48,326.42 L229.86,326.72 L230.24,327.02 L230.61,327.32 L230.99,327.61 L231.37,327.90 L231.75,328.20 L232.13,328.49 L232.52,328.77 L232.90,329.06 L233.29,329.35 L233.67,329.63 L234.06,329.91 L234.45,330.20 L234.84,330.47 L235.23,330.75 L235.62,331.03 L236.01,331.30 L236.41,331.57 L236.80,331.85 L237.20,332.11 L237.60,332.38 L238.00,332.65 L238.40,332.91 L238.80,333.17 L239.20,333.43 L239.60,333.69 L240.01,333.95 L240.41,334.21 L240.82,334.46 L241.22,334.71 L241.63,334.96 L242.04,335.21 L242.45,335.45 L242.86,335.70 L243.27,335.94 L243.68,336.18 L244.10,336.42 L244.51,336.66 L244.93,336.89 L245.34,337.13 L245.76,337.36 L246.18,337.59 L246.59,337.81 L247.01,338.04 L247.43,338.26 L247.86,338.49 L248.28,338.71 L248.70,338.92 L249.12,339.14 L249.55,339.35 L249.97,339.56 L250.40,339.77 L250.83,339.98 L251.26,340.19 L251.68,340.39 L252.11,340.59 L252.54,340.79 L252.97,340.99 L253.41,341.19 L253.84,341.38 L254.27,341.57 L254.70,341.76 L255.14,341.95 L255.57,342.13 L256.01,342.31 L256.45,342.50 L256.88,342.67 L257.32,342.85 L257.76,343.02 L258.20,343.20 L258.64,343.37 L259.08,343.53 L259.52,343.70 L259.96,343.86 L260.40,344.02 L260.84,344.18 L261.29,344.34 L261.73,344.49 L262.17,344.65 L262.62,344.80 L263.06,344.94 L263.51,345.09 L263.96,345.23 L264.40,345.37" stroke="#FF0000" stroke-width="2.5"/>
<path d="M259.50,342.40 C261.25,342.93 265.93,344.37 270.00,345.60 C274.07,346.83 278.07,348.33 283.90,349.80 C289.73,351.27 297.32,353.17 305.00,354.40 C312.68,355.63 320.83,356.52 330.00,357.20 C339.17,357.88 350.17,358.20 360.00,358.50 C369.83,358.80 384.17,358.92 389.00,359.00" stroke="#00C8C8" stroke-width="2.5"/>
<path d="M129.91,338.81 L130.02,337.62 L130.13,336.43 L130.24,335.24 L130.35,334.04 L130.46,332.85 L130.57,331.66 L130.67,330.47 L130.78,329.28 L130.89,328.09 L131.00,326.90 L131.10,325.71 L131.21,324.52 L131.32,323.33 L131.42,322.14 L131.53,320.94 L131.63,319.75 L131.73,318.56 L131.84,317.37 L131.94,316.18 L132.04,314.99 L132.14,313.80 L132.25,312.61 L132.35,311.42 L132.45,310.23 L132.55,309.04 L132.65,307.85 L132.75,306.66 L132.85,305.47 L132.95,304.28 L133.05,303.09 L133.15,301.90 L133.24,300.71 L133.34,299.52 L133.44,298.33 L133.54,297.14 L133.63,295.95 L133.73,294.76 L133.83,293.57 L133.92,292.38 L134.02,291.19 L134.11,290.00 L134.21,288.81 L134.30,287.62 L134.40,286.43 L134.49,285.24 L134.58,284.05 L134.68,282.86 L134.77,281.67 L134.86,280.48 L134.96,279.29 L135.05,278.10 L135.14,276.91 L135.23,275.72 L135.32,274.53 L135.42,273.34 L135.51,272.15 L135.60,270.96 L135.69,269.77 L135.78,268.58 L135.87,267.39 L135.96,266.20 L136.05,265.01 L136.14,263.82 L136.23,262.63 L136.32,261.44 L136.41,260.25 L136.50,259.06 L136.59,257.87 L136.68,256.68 L136.76,255.49 L136.85,254.30 L136.94,253.11 L137.03,251.92 L137.12,250.73 L137.21,249.54 L137.29,248.35 L137.38,247.16 L137.47,245.97 L137.56,244.78 L137.64,243.59 L137.73,242.40 L137.82,241.21 L137.91,240.02 L137.99,238.83 L138.08,237.64 L138.17,236.45 L138.25,235.26 L138.34,234.07 L138.43,232.88 L138.51,231.69 L138.60,230.50 L138.69,229.31 L138.77,228.12 L138.86,226.93 L138.95,225.74 L139.03,224.55 L139.12,223.36 L139.21,222.17 L139.29,220.98 L139.38,219.79 L139.47,218.60 L139.55,217.40 L139.64,216.21 L139.73,215.02 L139.81,213.83 L139.90,212.64 L139.99,211.45 L140.08,210.26 L140.16,209.07 L140.25,207.88 L140.34,206.69 L140.42,205.50 L140.51,204.31 L140.60,203.11 L140.69,201.92 L140.77,200.73 L140.86,199.54 L140.95,198.35 L141.04,197.16 L141.12,195.97 L141.21,194.77 L141.30,193.58 L141.39,192.39 L141.48,191.20 L141.56,190.01 L141.65,188.82 L141.74,187.62 L141.83,186.43 L141.92,185.24 L142.01,184.05 L142.10,182.86 L142.19,181.67 L142.28,180.47 L142.37,179.28 L142.46,178.09 L142.55,176.90 L142.64,175.70 L142.73,174.51 L142.82,173.32 L142.91,172.13 L143.00,170.93 L143.10,169.74 L143.19,168.55 L143.28,167.36 L143.37,166.16 L143.46,164.97 L143.56,163.78 L143.65,162.58 L143.74,161.39 L143.83,160.20 L143.93,159.01 L144.02,157.81 L144.11,156.62 L144.21,155.43 L144.30,154.24 L144.40,153.05 L144.49,151.85 L144.59,150.66 L144.68,149.47 L144.77,148.28 L144.87,147.09 L144.97,145.89 L145.06,144.70 L145.16,143.51 L145.25,142.32 L145.35,141.13 L145.44,139.94 L145.54,138.75 L145.64,137.56 L145.73,136.37 L145.83,135.18 L145.92,133.99 L146.02,132.80 L146.12,131.61 L146.22,130.42 L146.31,129.23 L146.41,128.05 L146.51,126.86 L146.61,125.67 L146.70,124.48 L146.80,123.30 L146.90,122.11 L147.00,120.92 L147.10,119.74 L147.19,118.55 L147.29,117.37 L147.39,116.18 L147.49,115.00 L147.59,113.81 L147.69,112.63 L147.79,111.45 L147.89,110.26 L147.98,109.08 L148.08,107.90 L148.18,106.72 L148.28,105.53 L148.38,104.35 L148.48,103.17 L148.58,101.99 L148.68,100.81 L148.78,99.63 L148.88,98.46 L148.99,97.28 L149.09,96.10 L149.20,94.92 L149.31,93.74 L149.43,92.56 L149.55,91.38 L149.67,90.20 L149.80,89.01 L149.93,87.83 L150.08,86.64 L150.23,85.46 L150.38,84.27 L150.55,83.08 L150.72,81.88 L150.90,80.69 L151.09,79.49 L151.30,78.29 L151.51,77.09 L151.73,75.88 L151.97,74.67 L152.22,73.46 L152.48,72.25 L152.76,71.03 L153.05,69.80 L153.35,68.58 L153.67,67.35 L154.02,66.14 L154.42,64.96 L154.88,63.84 L155.42,62.78 L156.04,61.81 L156.76,60.96 L157.55,60.22 L158.35,59.63 L159.13,59.22 L159.89,59.06 L160.63,59.22 L161.34,59.70 L162.02,60.42 L162.68,61.32 L163.32,62.34 L163.93,63.45 L164.51,64.62 L165.06,65.84 L165.59,67.05 L166.09,68.26 L166.56,69.46 L167.01,70.64 L167.43,71.82 L167.84,72.99 L168.22,74.15 L168.58,75.30 L168.93,76.45 L169.27,77.59 L169.58,78.73 L169.89,79.87 L170.19,81.01 L170.48,82.14 L170.76,83.27 L171.03,84.40 L171.30,85.54 L171.57,86.67 L171.84,87.81 L172.10,88.95 L172.36,90.10 L172.62,91.24 L172.88,92.39 L173.14,93.54 L173.40,94.69 L173.65,95.85 L173.91,97.00 L174.16,98.16 L174.41,99.32 L174.66,100.48 L174.91,101.64 L175.16,102.80 L175.41,103.97 L175.65,105.14 L175.90,106.30 L176.14,107.47 L176.39,108.64 L176.63,109.81 L176.87,110.99 L177.11,112.16 L177.36,113.33 L177.60,114.51 L177.84,115.68 L178.08,116.86 L178.32,118.04 L178.56,119.21 L178.80,120.39 L179.03,121.57 L179.27,122.74 L179.51,123.92 L179.75,125.10 L179.99,126.28 L180.23,127.45 L180.47,128.63 L180.71,129.81 L180.95,130.99 L181.19,132.16 L181.43,133.34 L181.67,134.51 L181.91,135.69 L182.15,136.86 L182.39,138.03 L182.64,139.21 L182.88,140.38 L183.13,141.55 L183.37,142.72 L183.62,143.89 L183.86,145.05 L184.11,146.22 L184.36,147.39 L184.61,148.55 L184.86,149.72 L185.11,150.88 L185.36,152.05 L185.62,153.21 L185.87,154.37 L186.13,155.53 L186.38,156.70 L186.64,157.86 L186.90,159.02 L187.16,160.18 L187.42,161.34 L187.68,162.49 L187.95,163.65 L188.21,164.81 L188.48,165.97 L188.74,167.13 L189.01,168.28 L189.28,169.44 L189.55,170.60 L189.82,171.75 L190.10,172.91 L190.37,174.06 L190.65,175.22 L190.93,176.37 L191.21,177.53 L191.49,178.68 L191.77,179.84 L192.06,180.99 L192.34,182.15 L192.63,183.30 L192.92,184.46 L193.21,185.61 L193.51,186.77 L193.80,187.92 L194.10,189.08 L194.40,190.23 L194.70,191.39 L195.00,192.54 L195.30,193.70 L195.61,194.85 L195.92,196.01 L196.23,197.17 L196.54,198.32 L196.85,199.48 L197.17,200.64 L197.49,201.79 L197.80,202.95 L198.12,204.11 L198.45,205.27 L198.77,206.42 L199.09,207.58 L199.42,208.74 L199.74,209.90 L200.07,211.05 L200.40,212.21 L200.72,213.37 L201.05,214.52 L201.38,215.68 L201.71,216.83 L202.04,217.99 L202.37,219.15 L202.70,220.30 L203.03,221.45 L203.36,222.61 L203.69,223.76 L204.02,224.92 L204.35,226.07 L204.68,227.22 L205.01,228.37 L205.34,229.52 L205.67,230.67 L206.00,231.82 L206.33,232.97 L206.66,234.12 L207.00,235.26 L207.33,236.41 L207.67,237.56 L208.01,238.70 L208.34,239.84 L208.68,240.99 L209.03,242.13 L209.37,243.27 L209.72,244.41 L210.06,245.55 L210.41,246.68 L210.77,247.82 L211.12,248.95 L211.48,250.09 L211.84,251.22 L212.20,252.35 L212.56,253.48 L212.93,254.61 L213.30,255.74 L213.68,256.86 L214.05,257.99 L214.44,259.11 L214.82,260.23 L215.21,261.35 L215.60,262.47 L216.00,263.58 L216.40,264.70 L216.80,265.81 L217.21,266.92 L217.63,268.03 L218.05,269.14 L218.47,270.25 L218.90,271.35 L219.34,272.45 L219.78,273.55 L220.22,274.65 L220.67,275.75 L221.13,276.84 L221.59,277.94 L222.06,279.03 L222.54,280.12 L223.02,281.20 L223.51,282.29 L224.00,283.37 L224.50,284.45 L225.01,285.53 L225.53,286.60 L226.05,287.67 L226.58,288.74 L227.12,289.81 L227.66,290.88 L228.21,291.94 L228.78,293.00 L229.35,294.06 L229.92,295.12 L230.51,296.17 L231.10,297.22 L231.71,298.27 L232.32,299.31 L232.94,300.36 L233.57,301.40 L234.21,302.43 L234.86,303.47 L235.51,304.50 L236.18,305.52 L236.85,306.55 L237.52,307.56 L238.21,308.57 L238.89,309.58 L239.58,310.58 L240.28,311.57 L240.97,312.56 L241.67,313.53 L242.37,314.50 L243.07,315.46 L243.76,316.41 L244.46,317.35 L245.16,318.28 L245.86,319.19 L246.57,320.10 L247.30,320.99 L248.03,321.87 L248.78,322.74 L249.55,323.60 L250.34,324.44 L251.15,325.26 L251.98,326.08 L252.83,326.88 L253.70,327.66 L254.58,328.44 L255.48,329.20 L256.40,329.96 L257.33,330.70 L258.27,331.42 L259.23,332.14 L260.20,332.85 L261.18,333.55 L262.17,334.24 L263.17,334.92 L264.18,335.59 L265.20,336.25 L266.22,336.90 L267.25,337.54 L268.29,338.18 L269.33,338.81 L270.38,339.43 L271.43,340.04 L272.48,340.65 L273.54,341.24 L274.61,341.83 L275.67,342.41 L276.74,342.98 L277.82,343.54 L278.89,344.09 L279.97,344.63 L281.06,345.16 L282.15,345.67 L283.24,346.17 L284.33,346.67 L285.43,347.14 L286.53,347.61 L287.64,348.06 L288.75,348.50 L289.86,348.92 L290.97,349.33 L292.09,349.72 L293.21,350.10 L294.34,350.46 L295.46,350.81 L296.59,351.15 L297.73,351.47 L298.86,351.79 L300.00,352.09 L301.14,352.38 L302.29,352.66 L303.43,352.92 L304.58,353.18 L305.73,353.43 L306.89,353.67 L308.04,353.90 L309.20,354.12 L310.37,354.33 L311.53,354.54 L312.69,354.73 L313.86,354.92 L315.03,355.11 L316.21,355.29 L317.38,355.46 L318.56,355.62 L319.73,355.78 L320.91,355.93 L322.10,356.08 L323.28,356.22 L324.46,356.35 L325.65,356.48 L326.84,356.61 L328.03,356.73 L329.22,356.84 L330.41,356.95 L331.60,357.05 L332.80,357.15 L333.99,357.25 L335.19,357.34 L336.39,357.42 L337.58,357.50 L338.78,357.58 L339.98,357.66 L341.18,357.73 L342.38,357.79 L343.58,357.86 L344.79,357.92 L345.99,357.97 L347.19,358.03 L348.39,358.08 L349.60,358.13 L350.80,358.17 L352.00,358.21 L353.20,358.25 L354.41,358.29 L355.61,358.33 L356.81,358.36 L358.01,358.40 L359.22,358.43 L360.42,358.46 L361.62,358.48 L362.82,358.51 L364.02,358.54 L365.22,358.56 L366.42,358.58 L367.61,358.61 L368.81,358.63 L370.01,358.65 L371.20,358.67 L372.39,358.69 L373.59,358.72 L374.78,358.74 L375.97,358.76 L377.15,358.78 L378.34,358.80 L379.53,358.83 L380.71,358.85 L381.89,358.88 L383.07,358.90 L384.25,358.93 L385.43,358.96 L386.60,358.99 L387.77,359.02 L388.94,359.05" stroke="#0028FF" stroke-width="2.5"/>
</g>
<ellipse cx="263.8" cy="334.6" rx="2.6" ry="1.7" transform="rotate(35 263.8 334.6)" fill="#0028FF"/>
<rect x="124" y="31.2" width="265.90" height="333.40" fill="none" stroke="#000" stroke-width="2.2"/>
<line x1="124.00" y1="245.50" x2="144.50" y2="245.50" stroke="#000" stroke-width="2.2" />
<line x1="124.00" y1="126.40" x2="144.50" y2="126.40" stroke="#000" stroke-width="2.2" />
<line x1="123.40" y1="364.60" x2="123.40" y2="344.20" stroke="#000" stroke-width="2.2" />
<line x1="182.72" y1="364.60" x2="182.72" y2="354.40" stroke="#000" stroke-width="2.2" />
<line x1="242.04" y1="364.60" x2="242.04" y2="344.20" stroke="#000" stroke-width="2.2" />
<line x1="301.36" y1="364.60" x2="301.36" y2="354.40" stroke="#000" stroke-width="2.2" />
<line x1="360.68" y1="364.60" x2="360.68" y2="344.20" stroke="#000" stroke-width="2.2" />
<g transform="matrix(1.0,0,0,1.01,0.000,-3.741)">
<text x="93.84" y="374.10" font-size="32.6" >0</text>
</g>
<g transform="matrix(1.0,0,0,1.01,0.000,-2.550)">
<text x="93.94" y="255.00" font-size="32.6" >5</text>
</g>
<g transform="matrix(1.0,0,0,1.01,0.000,-1.359)">
<text x="75.71" y="135.90" font-size="32.6" > 0</text>
<path class="g1" d="M540,0 L540,1237 L205,1010 L205,1180 L560,1409 L722,1409 L722,0 Z" transform="translate(75.71,135.90) scale(0.01592,-0.01592)"/>
</g>
<g transform="matrix(1.0,0,0,1.01,0.000,-4.028)">
<text x="100.14" y="402.80" font-size="32.6" >0.0</text>
</g>
<g transform="matrix(1.0,0,0,1.01,0.000,-4.028)">
<text x="218.96" y="402.80" font-size="32.6" >0.2</text>
</g>
<g transform="matrix(1.0,0,0,1.01,0.000,-4.028)">
<text x="337.26" y="402.80" font-size="32.6" >0.4</text>
</g>
<g transform="translate(57.6,205.35) rotate(-90)">
<g transform="matrix(1.0,0,0,1.03,-0.000,-0.000)">
<text x="-144.95" y="0.00" font-size="32.9" >Intensity (arb. units)</text>
</g>
</g>
<g class="gq" transform="matrix(0.03260,0,0.00714,-0.03358,199.55,453.50)"><path fill-rule="evenodd" d="M21,359 A368,378 0 1,0 757,359 A368,378 0 1,0 21,359 Z M107,359 A282,296 0 1,1 671,359 A282,296 0 1,1 107,359 Z "/><path d="M470.4,213.5 L760.4,-6.5 L709.6,-73.5 L419.6,146.5 Z"/></g>
<g transform="matrix(1.0,0,0,1.03,0.000,-13.605)">
<text x="232.98" y="453.50" font-size="32.6" >(</text>
</g>
<g transform="matrix(1.0,0,0,1.03,0.000,-13.605)">
<text x="245.14" y="453.50" font-size="32.6" >Å</text>
</g>
<rect x="266.40" y="436.50" width="12.1" height="2.0"/>
<text x="278.88" y="443.50" font-size="18.6" > </text>
<path class="g1" d="M540,0 L540,1237 L205,1010 L205,1180 L560,1409 L722,1409 L722,0 Z" transform="translate(278.88,443.50) scale(0.00908,-0.00908)"/>
<g transform="matrix(1.0,0,0,1.03,0.000,-13.605)">
<text x="291.61" y="453.50" font-size="32.6" >)</text>
</g>
<rect x="253.5" y="54.2" width="130" height="127.8" fill="#000"/>
<rect x="251.7" y="52.6" width="128.3" height="125.9" fill="#fff" stroke="#000" stroke-width="2"/>
<line x1="261.00" y1="73.00" x2="308.00" y2="73.00" stroke="#0028FF" stroke-width="2" />
<g transform="matrix(1.0,0,0,0.96,0.000,3.240)">
<text x="335.39" y="81.00" font-size="28.0" >4 h</text>
</g>
<line x1="261.00" y1="101.60" x2="308.00" y2="101.60" stroke="#FF0000" stroke-width="2" />
<g transform="matrix(1.0,0,0,0.96,0.000,4.384)">
<text x="335.39" y="109.60" font-size="28.0" >2 h</text>
</g>
<line x1="261.00" y1="130.20" x2="308.00" y2="130.20" stroke="#00C000" stroke-width="2" />
<g transform="matrix(1.0,0,0,0.96,0.000,5.528)">
<text x="335.39" y="138.20" font-size="28.0" >  h</text>
<path class="g1" d="M540,0 L540,1237 L205,1010 L205,1180 L560,1409 L722,1409 L722,0 Z" transform="translate(335.39,138.20) scale(0.01367,-0.01367)"/>
</g>
<line x1="261.00" y1="158.80" x2="308.00" y2="158.80" stroke="#000" stroke-width="2" />
<g transform="matrix(1.0,0,0,0.96,0.000,6.672)">
<text x="335.39" y="166.80" font-size="28.0" >0 h</text>
</g>
<g fill="none" stroke-linejoin="round" stroke-linecap="round">
<path d="M669.22,359.97 L669.35,359.70 L669.48,359.43 L669.60,359.17 L669.73,358.90 L669.86,358.63 L669.99,358.36 L670.11,358.10 L670.24,357.83 L670.36,357.57 L670.49,357.30 L670.61,357.04 L670.73,356.77 L670.85,356.51 L670.98,356.25 L671.10,355.99 L671.22,355.73 L671.34,355.46 L671.46,355.20 L671.58,354.94 L671.70,354.68 L671.81,354.42 L671.93,354.17 L672.05,353.91 L672.16,353.65 L672.28,353.39 L672.40,353.13 L672.51,352.88 L672.63,352.62 L672.74,352.36 L672.85,352.11 L672.97,351.85 L673.08,351.59 L673.19,351.34 L673.30,351.08 L673.41,350.83 L673.53,350.57 L673.64,350.32 L673.75,350.06 L673.85,349.81 L673.96,349.55 L674.07,349.30 L674.18,349.05 L674.29,348.79 L674.40,348.54 L674.50,348.28 L674.61,348.03 L674.72,347.78 L674.82,347.52 L674.93,347.27 L675.03,347.02 L675.14,346.76 L675.24,346.51 L675.35,346.26 L675.45,346.00 L675.55,345.75 L675.66,345.50 L675.76,345.24 L675.86,344.99 L675.96,344.73 L676.07,344.48 L676.17,344.23 L676.27,343.97 L676.37,343.72 L676.47,343.46 L676.57,343.21 L676.67,342.95 L676.77,342.70 L676.87,342.44 L676.97,342.19 L677.07,341.93 L677.17,341.68 L677.27,341.42 L677.36,341.17 L677.46,340.91 L677.56,340.65 L677.66,340.39 L677.75,340.14 L677.85,339.88 L677.95,339.62 L678.05,339.36 L678.14,339.10 L678.24,338.84 L678.33,338.58 L678.43,338.32 L678.53,338.06 L678.62,337.80 L678.72,337.54 L678.81,337.28 L678.91,337.02 L679.00,336.75 L679.10,336.49 L679.19,336.23 L679.28,335.96 L679.38,335.70 L679.47,335.43 L679.57,335.17 L679.66,334.90 L679.75,334.63 L679.85,334.36 L679.94,334.10 L680.04,333.83 L680.13,333.56 L680.22,333.29 L680.32,333.02 L680.41,332.74 L680.50,332.47 L680.59,332.20 L680.69,331.93 L680.78,331.65 L680.87,331.38 L680.97,331.10 L681.06,330.82 L681.15,330.55 L681.24,330.27 L681.34,329.99 L681.43,329.71 L681.52,329.43 L681.62,329.15 L681.71,328.87 L681.81,328.59 L681.90,328.31 L682.00,328.03 L682.09,327.74 L682.19,327.46 L682.28,327.18 L682.38,326.90 L682.48,326.62 L682.58,326.34 L682.68,326.06 L682.78,325.78 L682.89,325.50 L682.99,325.22 L683.10,324.94 L683.20,324.67 L683.31,324.39 L683.42,324.11 L683.53,323.84 L683.64,323.57 L683.76,323.29 L683.87,323.02 L683.99,322.75 L684.11,322.48 L684.23,322.22 L684.35,321.95 L684.48,321.69 L684.60,321.42 L684.73,321.16 L684.86,320.90 L685.00,320.65 L685.13,320.39 L685.27,320.14 L685.41,319.89 L685.56,319.64 L685.70,319.39 L685.85,319.14 L686.00,318.90 L686.15,318.66 L686.31,318.42 L686.47,318.19 L686.63,317.95 L686.80,317.72 L686.96,317.50 L687.13,317.27 L687.31,317.05 L687.49,316.83 L687.67,316.62 L687.85,316.40 L688.04,316.20 L688.23,315.99 L688.43,315.79 L688.62,315.59 L688.83,315.39 L689.03,315.20 L689.24,315.01 L689.45,314.83 L689.67,314.64 L689.89,314.47 L690.12,314.29 L690.35,314.12 L690.58,313.96 L690.82,313.80 L691.06,313.64 L691.30,313.49 L691.55,313.34 L691.80,313.20 L692.05,313.07 L692.30,312.94 L692.55,312.81 L692.81,312.70 L693.06,312.58 L693.32,312.48 L693.58,312.38 L693.84,312.29 L694.10,312.20 L694.36,312.13 L694.62,312.06 L694.88,312.00 L695.13,311.94 L695.39,311.89 L695.65,311.85 L695.90,311.82 L696.16,311.80 L696.42,311.78 L696.67,311.76 L696.93,311.76 L697.18,311.76 L697.43,311.77 L697.69,311.78 L697.94,311.80 L698.19,311.82 L698.45,311.86 L698.70,311.89 L698.95,311.93 L699.20,311.98 L699.45,312.04 L699.70,312.09 L699.95,312.16 L700.20,312.23 L700.45,312.30 L700.70,312.38 L700.94,312.46 L701.19,312.55 L701.44,312.64 L701.69,312.74 L701.93,312.84 L702.18,312.94 L702.42,313.05 L702.67,313.16 L702.92,313.28 L703.16,313.40 L703.40,313.52 L703.65,313.64 L703.89,313.77 L704.13,313.91 L704.38,314.04 L704.62,314.18 L704.86,314.32 L705.10,314.46 L705.34,314.61 L705.58,314.75 L705.83,314.90 L706.07,315.05 L706.31,315.21 L706.54,315.36 L706.78,315.52 L707.02,315.68 L707.26,315.84 L707.50,316.00 L707.74,316.16 L707.97,316.33 L708.21,316.49 L708.45,316.66 L708.69,316.83 L708.92,317.00 L709.16,317.17 L709.39,317.34 L709.63,317.51 L709.86,317.68 L710.10,317.86 L710.33,318.03 L710.57,318.21 L710.80,318.39 L711.03,318.56 L711.27,318.74 L711.50,318.92 L711.73,319.10 L711.96,319.28 L712.19,319.46 L712.43,319.64 L712.66,319.83 L712.89,320.01 L713.12,320.19 L713.35,320.37 L713.58,320.55 L713.81,320.74 L714.04,320.92 L714.27,321.10 L714.50,321.29 L714.73,321.47 L714.95,321.65 L715.18,321.84 L715.41,322.02 L715.64,322.20 L715.87,322.38 L716.09,322.56 L716.32,322.75 L716.55,322.93 L716.77,323.11 L717.00,323.29 L717.23,323.47 L717.45,323.65 L717.68,323.83 L717.90,324.01 L718.13,324.19 L718.35,324.37 L718.58,324.55 L718.80,324.73 L719.03,324.91 L719.25,325.09 L719.48,325.26 L719.70,325.44 L719.92,325.62 L720.15,325.80 L720.37,325.97 L720.59,326.15 L720.82,326.33 L721.04,326.50 L721.26,326.68 L721.49,326.86 L721.71,327.03 L721.93,327.21 L722.15,327.38 L722.38,327.56 L722.60,327.73 L722.82,327.91 L723.04,328.08 L723.27,328.25 L723.49,328.43 L723.71,328.60 L723.93,328.77 L724.16,328.95 L724.38,329.12 L724.60,329.29 L724.82,329.46 L725.04,329.63 L725.27,329.81 L725.49,329.98 L725.71,330.15 L725.93,330.32 L726.15,330.49 L726.38,330.66 L726.60,330.83 L726.82,331.00 L727.04,331.16 L727.27,331.33 L727.49,331.50 L727.71,331.67 L727.93,331.84 L728.16,332.00 L728.38,332.17 L728.60,332.34 L728.82,332.51 L729.05,332.67 L729.27,332.84 L729.49,333.00 L729.72,333.17 L729.94,333.33 L730.16,333.50 L730.39,333.66 L730.61,333.83 L730.83,333.99 L731.06,334.15 L731.28,334.32 L731.50,334.48 L731.73,334.64 L731.95,334.80 L732.18,334.97 L732.40,335.13 L732.63,335.29 L732.85,335.45 L733.08,335.61 L733.30,335.77 L733.53,335.93 L733.76,336.09 L733.98,336.25 L734.21,336.41 L734.44,336.57 L734.66,336.73 L734.89,336.88 L735.12,337.04 L735.35,337.20 L735.57,337.36 L735.80,337.51 L736.03,337.67 L736.26,337.82 L736.49,337.98 L736.72,338.14 L736.95,338.29 L737.18,338.44 L737.41,338.60 L737.64,338.75 L737.87,338.91 L738.10,339.06 L738.33,339.21 L738.56,339.37 L738.80,339.52 L739.03,339.67 L739.26,339.82 L739.49,339.97 L739.73,340.12 L739.96,340.27 L740.20,340.42 L740.43,340.57 L740.67,340.72 L740.90,340.87 L741.14,341.02 L741.37,341.17 L741.61,341.32 L741.85,341.46 L742.09,341.61 L742.32,341.76 L742.56,341.91 L742.80,342.05 L743.04,342.20 L743.28,342.34 L743.52,342.49 L743.76,342.63 L744.00,342.78 L744.25,342.92 L744.49,343.06 L744.73,343.21 L744.97,343.35 L745.22,343.49 L745.46,343.63 L745.71,343.78 L745.95,343.92 L746.20,344.06 L746.44,344.20 L746.69,344.34 L746.93,344.48 L747.18,344.61 L747.43,344.75 L747.68,344.89 L747.92,345.03 L748.17,345.17 L748.42,345.30 L748.67,345.44 L748.92,345.57 L749.17,345.71 L749.42,345.84 L749.67,345.98 L749.93,346.11 L750.18,346.24 L750.43,346.37 L750.68,346.50 L750.94,346.64 L751.19,346.77 L751.44,346.90 L751.70,347.02 L751.95,347.15 L752.21,347.28 L752.46,347.41 L752.72,347.53 L752.97,347.66 L753.23,347.79 L753.49,347.91 L753.74,348.03 L754.00,348.16 L754.26,348.28 L754.52,348.40 L754.78,348.52 L755.03,348.64 L755.29,348.76 L755.55,348.88 L755.81,349.00 L756.07,349.12 L756.33,349.24 L756.59,349.35 L756.85,349.47 L757.12,349.58 L757.38,349.70 L757.64,349.81 L757.90,349.92 L758.16,350.03 L758.43,350.15 L758.69,350.26 L758.95,350.37 L759.22,350.47 L759.48,350.58 L759.74,350.69 L760.01,350.79 L760.27,350.90 L760.54,351.00 L760.80,351.11 L761.07,351.21 L761.34,351.31 L761.60,351.41 L761.87,351.51 L762.13,351.61 L762.40,351.71 L762.67,351.81 L762.94,351.90 L763.20,352.00 L763.47,352.09 L763.74,352.19 L764.01,352.28 L764.27,352.37 L764.54,352.46 L764.81,352.55 L765.08,352.64 L765.35,352.73 L765.62,352.82 L765.89,352.90 L766.16,352.99 L766.43,353.07 L766.70,353.15 L766.97,353.23 L767.24,353.32 L767.51,353.40 L767.78,353.47 L768.05,353.55 L768.33,353.63 L768.60,353.70 L768.87,353.78 L769.14,353.85 L769.41,353.92 L769.68,354.00 L769.96,354.07 L770.23,354.14 L770.50,354.21 L770.77,354.27 L771.05,354.34 L771.32,354.41 L771.59,354.47 L771.87,354.54 L772.14,354.60 L772.41,354.66 L772.69,354.73 L772.96,354.79 L773.24,354.85 L773.51,354.91 L773.78,354.97 L774.06,355.03 L774.33,355.09 L774.61,355.15 L774.88,355.21 L775.16,355.26 L775.43,355.32 L775.71,355.38 L775.98,355.43 L776.26,355.49 L776.53,355.54 L776.81,355.60 L777.08,355.65 L777.36,355.71 L777.63,355.76 L777.91,355.82 L778.18,355.87 L778.46,355.92 L778.74,355.97 L779.01,356.03 L779.29,356.08 L779.56,356.13 L779.84,356.18 L780.11,356.24 L780.39,356.29 L780.67,356.34 L780.94,356.39 L781.22,356.44 L781.49,356.50 L781.77,356.55 L782.05,356.60 L782.32,356.65 L782.60,356.70 L782.88,356.76 L783.15,356.81 L783.43,356.86 L783.70,356.91 L783.98,356.97 L784.26,357.02 L784.53,357.07 L784.81,357.13 L785.09,357.18 L785.36,357.24 L785.64,357.29 L785.91,357.35 L786.19,357.40 L786.47,357.46 L786.74,357.51 L787.02,357.57 L787.29,357.63 L787.57,357.68 L787.85,357.74 L788.12,357.80 L788.40,357.86 L788.67,357.92 L788.95,357.98 L789.22,358.04 L789.50,358.10 L789.78,358.17 L790.05,358.23 L790.33,358.29 L790.60,358.36 L790.88,358.42 L791.15,358.49 L791.43,358.55 L791.70,358.62 L791.98,358.69 L792.25,358.76 L792.53,358.83 L792.80,358.90 L793.07,358.97 L793.35,359.05 L793.62,359.12 L793.90,359.20 L794.17,359.27 L794.45,359.35 L794.72,359.43 L794.99,359.51 C798.33,359.89 805.83,361.24 815.00,361.80 C824.17,362.37 831.17,362.60 850.00,362.90 C868.83,363.20 915.00,363.48 928.00,363.60" stroke="#0028FF" stroke-width="2.1"/>
<path d="M669.34,359.16 L669.46,358.76 L669.59,358.37 L669.71,357.97 L669.83,357.58 L669.95,357.18 L670.07,356.79 L670.19,356.40 L670.31,356.01 L670.42,355.61 L670.54,355.22 L670.65,354.83 L670.77,354.43 L670.88,354.04 L670.99,353.65 L671.10,353.26 L671.21,352.87 L671.32,352.47 L671.43,352.08 L671.54,351.69 L671.64,351.30 L671.75,350.91 L671.86,350.52 L671.96,350.13 L672.06,349.74 L672.16,349.34 L672.27,348.95 L672.37,348.56 L672.47,348.17 L672.57,347.78 L672.67,347.39 L672.76,347.00 L672.86,346.61 L672.96,346.22 L673.05,345.83 L673.15,345.44 L673.24,345.05 L673.33,344.66 L673.43,344.28 L673.52,343.89 L673.61,343.50 L673.70,343.11 L673.79,342.72 L673.88,342.33 L673.97,341.94 L674.06,341.55 L674.15,341.16 L674.24,340.77 L674.32,340.39 L674.41,340.00 L674.49,339.61 L674.58,339.22 L674.66,338.83 L674.75,338.44 L674.83,338.06 L674.92,337.67 L675.00,337.28 L675.08,336.89 L675.16,336.50 L675.24,336.12 L675.33,335.73 L675.41,335.34 L675.49,334.95 L675.57,334.56 L675.65,334.18 L675.73,333.79 L675.80,333.40 L675.88,333.01 L675.96,332.63 L676.04,332.24 L676.12,331.85 L676.19,331.46 L676.27,331.08 L676.35,330.69 L676.42,330.30 L676.50,329.91 L676.57,329.52 L676.65,329.14 L676.73,328.75 L676.80,328.36 L676.88,327.97 L676.95,327.59 L677.02,327.20 L677.10,326.81 L677.17,326.42 L677.25,326.04 L677.32,325.65 L677.39,325.26 L677.47,324.87 L677.54,324.48 L677.62,324.10 L677.69,323.71 L677.76,323.32 L677.84,322.93 L677.91,322.54 L677.98,322.16 L678.05,321.77 L678.13,321.38 L678.20,320.99 L678.27,320.60 L678.35,320.21 L678.42,319.83 L678.49,319.44 L678.57,319.05 L678.64,318.66 L678.71,318.27 L678.79,317.88 L678.86,317.49 L678.93,317.10 L679.01,316.71 L679.08,316.33 L679.15,315.94 L679.23,315.55 L679.30,315.16 L679.38,314.77 L679.45,314.38 L679.52,313.99 L679.60,313.60 L679.67,313.21 L679.75,312.82 L679.82,312.43 L679.90,312.04 L679.97,311.65 L680.05,311.26 L680.12,310.87 L680.20,310.48 L680.27,310.09 L680.35,309.69 L680.42,309.30 L680.50,308.91 L680.58,308.52 L680.65,308.13 L680.73,307.74 L680.80,307.35 L680.88,306.95 L680.96,306.56 L681.03,306.17 L681.11,305.78 L681.19,305.38 L681.26,304.99 L681.34,304.60 L681.42,304.21 L681.50,303.81 L681.58,303.42 L681.65,303.03 L681.73,302.63 L681.81,302.24 L681.89,301.84 L681.97,301.45 L682.05,301.06 L682.13,300.66 L682.21,300.27 L682.29,299.87 L682.37,299.48 L682.45,299.08 L682.53,298.68 L682.61,298.29 L682.69,297.89 L682.77,297.50 L682.85,297.10 L682.93,296.70 L683.01,296.31 L683.09,295.91 L683.18,295.51 L683.26,295.12 L683.34,294.72 L683.42,294.32 L683.51,293.92 L683.59,293.52 L683.67,293.12 L683.76,292.73 L683.84,292.33 L683.93,291.93 L684.01,291.53 L684.09,291.13 L684.18,290.73 L684.27,290.33 L684.35,289.93 L684.44,289.53 L684.52,289.13 L684.61,288.72 L684.70,288.32 L684.78,287.92 L684.87,287.52 L684.96,287.12 L685.05,286.71 L685.13,286.31 L685.22,285.91 L685.31,285.50 L685.40,285.10 L685.49,284.70 L685.58,284.29 L685.67,283.89 L685.76,283.48 L685.85,283.08 L685.94,282.67 L686.03,282.27 L686.13,281.86 L686.22,281.46 L686.31,281.05 L686.41,280.65 L686.51,280.24 L686.61,279.84 L686.71,279.44 L686.81,279.04 L686.92,278.64 L687.03,278.25 L687.14,277.85 L687.25,277.46 L687.37,277.07 L687.50,276.68 L687.62,276.30 L687.76,275.92 L687.89,275.54 L688.03,275.17 L688.18,274.80 L688.33,274.44 L688.49,274.08 L688.65,273.72 L688.82,273.37 L688.99,273.02 L689.17,272.68 L689.36,272.34 L689.56,272.01 L689.76,271.69 L689.97,271.37 L690.19,271.06 L690.41,270.75 L690.65,270.45 L690.89,270.16 L691.14,269.87 L691.40,269.59 L691.67,269.32 L691.95,269.06 L692.24,268.80 L692.54,268.56 L692.84,268.32 L693.15,268.10 L693.47,267.90 L693.79,267.71 L694.12,267.54 L694.45,267.39 L694.78,267.26 L695.11,267.16 L695.44,267.08 L695.77,267.04 L696.10,267.01 L696.43,267.02 L696.75,267.05 L697.08,267.11 L697.40,267.18 L697.72,267.28 L698.04,267.41 L698.36,267.55 L698.68,267.71 L698.99,267.89 L699.30,268.08 L699.61,268.29 L699.92,268.52 L700.23,268.76 L700.54,269.01 L700.84,269.28 L701.14,269.55 L701.44,269.83 L701.74,270.13 L702.04,270.43 L702.33,270.73 L702.62,271.04 L702.91,271.36 L703.20,271.68 L703.48,272.00 L703.77,272.32 L704.05,272.64 L704.33,272.96 L704.61,273.29 L704.88,273.62 L705.15,273.94 L705.42,274.27 L705.69,274.60 L705.95,274.93 L706.22,275.26 L706.48,275.60 L706.73,275.93 L706.99,276.26 L707.24,276.60 L707.49,276.93 L707.74,277.27 L707.98,277.61 L708.23,277.94 L708.47,278.28 L708.70,278.62 L708.94,278.96 L709.17,279.30 L709.40,279.64 L709.63,279.98 L709.85,280.32 L710.08,280.66 L710.30,281.00 L710.52,281.34 L710.73,281.69 L710.95,282.03 L711.16,282.37 L711.37,282.72 L711.58,283.06 L711.79,283.40 L712.00,283.75 L712.20,284.09 L712.40,284.44 L712.60,284.79 L712.80,285.13 L713.00,285.48 L713.20,285.83 L713.39,286.17 L713.59,286.52 L713.78,286.87 L713.97,287.22 L714.16,287.56 L714.35,287.91 L714.54,288.26 L714.73,288.61 L714.92,288.96 L715.10,289.31 L715.29,289.66 L715.47,290.01 L715.66,290.35 L715.84,290.70 L716.02,291.05 L716.21,291.40 L716.39,291.75 L716.57,292.10 L716.75,292.45 L716.93,292.80 L717.11,293.15 L717.29,293.50 L717.47,293.85 L717.65,294.20 L717.83,294.55 L718.01,294.90 L718.19,295.25 L718.37,295.60 L718.55,295.95 L718.73,296.30 L718.92,296.64 L719.10,296.99 L719.28,297.34 L719.46,297.69 L719.64,298.04 L719.83,298.39 L720.01,298.73 L720.20,299.08 L720.38,299.43 L720.57,299.78 L720.76,300.12 L720.94,300.47 L721.13,300.82 L721.32,301.16 L721.51,301.51 L721.71,301.85 L721.90,302.20 L722.09,302.54 L722.29,302.89 L722.49,303.23 L722.69,303.58 L722.89,303.92 L723.09,304.26 L723.29,304.60 L723.49,304.95 L723.70,305.29 L723.91,305.63 L724.12,305.97 L724.33,306.31 L724.54,306.65 L724.76,306.99 L724.98,307.33 L725.19,307.66 L725.41,308.00 L725.64,308.34 L725.86,308.67 L726.08,309.01 L726.31,309.35 L726.54,309.68 L726.77,310.01 L727.00,310.35 L727.23,310.68 L727.46,311.01 L727.70,311.34 L727.93,311.67 L728.17,312.00 L728.41,312.33 L728.65,312.66 L728.89,312.99 L729.13,313.31 L729.38,313.64 L729.62,313.96 L729.87,314.29 L730.11,314.61 L730.36,314.93 L730.61,315.26 L730.86,315.58 L731.11,315.90 L731.36,316.22 L731.62,316.53 L731.87,316.85 L732.12,317.17 L732.38,317.48 L732.64,317.80 L732.89,318.11 L733.15,318.42 L733.41,318.73 L733.67,319.04 L733.93,319.35 L734.19,319.66 L734.45,319.97 L734.71,320.28 L734.97,320.58 L735.23,320.89 L735.50,321.19 L735.76,321.49 L736.02,321.79 L736.29,322.09 L736.55,322.39 L736.82,322.69 L737.08,322.98 L737.35,323.28 L737.62,323.57 L737.88,323.86 L738.15,324.16 L738.42,324.45 L738.68,324.74 L738.95,325.02 L739.22,325.31 L739.48,325.60 L739.75,325.89 L740.02,326.17 L740.28,326.46 L740.55,326.75 L740.81,327.04 L741.07,327.33 L741.34,327.62 L741.60,327.91 L741.86,328.20 L742.12,328.49 L742.38,328.79 L742.64,329.08 L742.89,329.38 L743.15,329.68 L743.40,329.98 L743.66,330.29 L743.91,330.59 L744.16,330.90 L744.40,331.21 L744.65,331.53 L744.90,331.84 L745.14,332.16 L745.38,332.48 L745.62,332.80 L745.87,333.13 L746.11,333.45 L746.35,333.78 L746.59,334.10 L746.83,334.43 L747.07,334.75 L747.31,335.08 L747.55,335.41 L747.79,335.73 L748.04,336.06 L748.28,336.39 L748.53,336.71 L748.77,337.04 L749.02,337.36 L749.27,337.68 L749.52,338.00 L749.77,338.32 L750.02,338.64 L750.28,338.95 L750.54,339.26 L750.80,339.57 L751.06,339.88 L751.33,340.19 L751.60,340.49 L751.87,340.78 L752.14,341.08 L752.42,341.37 L752.70,341.66 L752.99,341.94 L753.28,342.22 L753.57,342.49 L753.87,342.76 L754.17,343.03 L754.48,343.29 L754.78,343.55 L755.10,343.80 L755.41,344.04 L755.73,344.29 L756.06,344.53 L756.38,344.76 L756.71,344.99 L757.04,345.22 L757.37,345.44 L757.71,345.66 L758.05,345.87 L758.39,346.08 L758.73,346.29 L759.07,346.49 L759.42,346.69 L759.77,346.89 L760.12,347.08 L760.47,347.27 L760.82,347.46 L761.17,347.64 L761.52,347.82 L761.87,347.99 L762.23,348.17 L762.58,348.34 L762.94,348.51 L763.29,348.67 L763.65,348.83 L764.01,348.99 L764.36,349.15 L764.72,349.31 L765.08,349.46 L765.44,349.62 L765.80,349.77 L766.17,349.92 L766.53,350.07 L766.89,350.21 L767.25,350.36 L767.62,350.51 L767.98,350.65 L768.35,350.79 L768.72,350.94 L769.08,351.08 L769.45,351.22 L769.82,351.37 L770.19,351.51 L770.56,351.65 L770.93,351.80 L771.30,351.94 L771.67,352.08 L772.04,352.23 L772.41,352.37 L772.78,352.52 L773.16,352.67 L773.53,352.82 L773.90,352.97 L774.28,353.12 L774.65,353.27 L775.03,353.43 L775.41,353.58 L775.78,353.74 L776.16,353.90 L776.54,354.07 L776.91,354.23 L777.29,354.40 L777.67,354.57 L778.05,354.74 L778.43,354.92 L778.81,355.10 L779.19,355.28 L779.57,355.47 L779.95,355.66 L780.33,355.85 L780.71,356.05 L781.09,356.24 L781.48,356.44 L781.86,356.64 L782.24,356.84 L782.62,357.03 L783.01,357.23 L783.39,357.42 L783.78,357.62 L784.16,357.80 L784.54,357.99 L784.93,358.17 L785.31,358.35 L785.70,358.52 L786.09,358.68 L786.47,358.84 L786.86,358.99 L787.24,359.14 L787.63,359.27 L788.02,359.40 L788.40,359.52 L788.79,359.63 L789.18,359.72 L789.56,359.81 L789.95,359.88 L790.34,359.94 L790.72,359.99 L791.11,360.03 L791.50,360.05 L791.89,360.05 L792.27,360.05 L792.66,360.02 L793.05,359.98 L793.44,359.92 L793.83,359.84 L794.21,359.75 L794.60,359.64 L794.99,359.50 C798.33,359.88 805.83,361.23 815.00,361.80 C824.17,362.37 831.17,362.60 850.00,362.90 C868.83,363.20 915.00,363.48 928.00,363.60" stroke="#00A0FF" stroke-width="2.1"/>
<path d="M669.33,357.77 L669.41,357.22 L669.49,356.66 L669.57,356.11 L669.66,355.55 L669.74,354.99 L669.82,354.44 L669.90,353.88 L669.98,353.32 L670.06,352.77 L670.14,352.21 L670.21,351.65 L670.29,351.09 L670.37,350.54 L670.45,349.98 L670.53,349.42 L670.60,348.86 L670.68,348.31 L670.76,347.75 L670.83,347.19 L670.91,346.63 L670.98,346.07 L671.06,345.51 L671.13,344.95 L671.21,344.39 L671.28,343.83 L671.36,343.28 L671.43,342.72 L671.50,342.16 L671.58,341.60 L671.65,341.04 L671.72,340.48 L671.79,339.92 L671.86,339.36 L671.94,338.80 L672.01,338.24 L672.08,337.68 L672.15,337.11 L672.22,336.55 L672.29,335.99 L672.36,335.43 L672.43,334.87 L672.50,334.31 L672.57,333.75 L672.64,333.19 L672.70,332.63 L672.77,332.06 L672.84,331.50 L672.91,330.94 L672.98,330.38 L673.04,329.82 L673.11,329.26 L673.18,328.69 L673.24,328.13 L673.31,327.57 L673.38,327.01 L673.44,326.44 L673.51,325.88 L673.57,325.32 L673.64,324.76 L673.70,324.19 L673.77,323.63 L673.83,323.07 L673.89,322.51 L673.96,321.94 L674.02,321.38 L674.09,320.82 L674.15,320.25 L674.21,319.69 L674.27,319.13 L674.34,318.57 L674.40,318.00 L674.46,317.44 L674.52,316.88 L674.58,316.31 L674.65,315.75 L674.71,315.18 L674.77,314.62 L674.83,314.06 L674.89,313.49 L674.95,312.93 L675.01,312.37 L675.07,311.80 L675.13,311.24 L675.19,310.68 L675.25,310.11 L675.31,309.55 L675.37,308.98 L675.42,308.42 L675.48,307.86 L675.54,307.29 L675.60,306.73 L675.66,306.16 L675.72,305.60 L675.77,305.04 L675.83,304.47 L675.89,303.91 L675.95,303.34 L676.00,302.78 L676.06,302.22 L676.12,301.65 L676.17,301.09 L676.23,300.52 L676.29,299.96 L676.34,299.40 L676.40,298.83 L676.45,298.27 L676.51,297.70 L676.57,297.14 L676.62,296.58 L676.68,296.01 L676.73,295.45 L676.79,294.89 L676.84,294.32 L676.90,293.76 L676.95,293.19 L677.01,292.63 L677.06,292.07 L677.11,291.50 L677.17,290.94 L677.22,290.37 L677.28,289.81 L677.33,289.25 L677.39,288.68 L677.44,288.12 L677.50,287.56 L677.55,286.99 L677.61,286.43 L677.66,285.87 L677.72,285.30 L677.77,284.74 L677.83,284.18 L677.88,283.61 L677.94,283.05 L677.99,282.49 L678.05,281.92 L678.10,281.36 L678.16,280.80 L678.21,280.24 L678.27,279.67 L678.33,279.11 L678.38,278.55 L678.44,277.98 L678.50,277.42 L678.55,276.86 L678.61,276.30 L678.67,275.73 L678.72,275.17 L678.78,274.61 L678.84,274.05 L678.90,273.49 L678.96,272.92 L679.02,272.36 L679.08,271.80 L679.14,271.24 L679.20,270.68 L679.26,270.12 L679.32,269.55 L679.38,268.99 L679.44,268.43 L679.50,267.87 L679.56,267.31 L679.63,266.75 L679.69,266.19 L679.75,265.63 L679.82,265.07 L679.88,264.51 L679.94,263.95 L680.01,263.38 L680.07,262.82 L680.14,262.26 L680.21,261.70 L680.27,261.14 L680.34,260.58 L680.41,260.03 L680.48,259.47 L680.55,258.91 L680.62,258.35 L680.69,257.79 L680.76,257.23 L680.83,256.67 L680.90,256.11 L680.97,255.55 L681.05,254.99 L681.12,254.44 L681.19,253.88 L681.27,253.32 L681.34,252.76 L681.42,252.20 L681.50,251.65 L681.57,251.09 L681.65,250.53 L681.73,249.97 L681.81,249.42 L681.89,248.86 L681.97,248.30 L682.05,247.75 L682.13,247.19 L682.22,246.63 L682.30,246.08 L682.39,245.52 L682.47,244.97 L682.56,244.41 L682.64,243.86 L682.73,243.30 L682.82,242.75 L682.91,242.19 L683.00,241.64 L683.09,241.08 L683.18,240.53 L683.28,239.97 L683.37,239.42 L683.46,238.86 L683.56,238.31 L683.66,237.76 L683.75,237.20 L683.85,236.65 L683.95,236.10 L684.05,235.55 L684.15,234.99 L684.25,234.44 L684.36,233.89 L684.46,233.34 L684.57,232.78 L684.67,232.23 L684.78,231.68 L684.89,231.13 L685.01,230.57 L685.12,230.02 L685.24,229.47 L685.36,228.91 L685.49,228.35 L685.62,227.80 L685.75,227.24 L685.89,226.68 L686.03,226.12 L686.17,225.56 L686.32,224.99 L686.47,224.43 L686.63,223.86 L686.80,223.30 L686.97,222.73 L687.14,222.15 L687.32,221.58 L687.51,221.00 L687.70,220.42 L687.90,219.84 L688.11,219.26 L688.32,218.67 L688.54,218.08 L688.77,217.49 L689.01,216.90 L689.25,216.30 L689.50,215.71 L689.76,215.12 L690.03,214.56 L690.31,214.02 L690.60,213.52 L690.90,213.07 L691.22,212.67 L691.54,212.33 L691.88,212.07 L692.23,211.88 L692.59,211.79 L692.97,211.79 L693.36,211.88 L693.76,212.06 L694.16,212.30 L694.57,212.61 L694.97,212.97 L695.37,213.37 L695.76,213.79 L696.14,214.23 L696.50,214.68 L696.85,215.13 L697.18,215.58 L697.50,216.04 L697.81,216.51 L698.11,216.97 L698.39,217.44 L698.66,217.92 L698.93,218.39 L699.18,218.88 L699.42,219.36 L699.66,219.85 L699.89,220.34 L700.11,220.83 L700.32,221.33 L700.53,221.83 L700.74,222.33 L700.93,222.84 L701.13,223.35 L701.32,223.86 L701.51,224.37 L701.70,224.88 L701.89,225.40 L702.08,225.92 L702.26,226.44 L702.45,226.96 L702.64,227.49 L702.83,228.01 L703.03,228.54 L703.22,229.07 L703.42,229.60 L703.61,230.14 L703.81,230.67 L704.01,231.20 L704.21,231.74 L704.41,232.27 L704.62,232.81 L704.82,233.35 L705.02,233.89 L705.23,234.43 L705.43,234.97 L705.63,235.50 L705.84,236.04 L706.04,236.58 L706.24,237.12 L706.44,237.66 L706.64,238.20 L706.85,238.74 L707.05,239.28 L707.25,239.82 L707.45,240.36 L707.65,240.90 L707.84,241.44 L708.04,241.98 L708.24,242.52 L708.44,243.06 L708.64,243.60 L708.83,244.14 L709.03,244.67 L709.23,245.21 L709.42,245.75 L709.62,246.29 L709.82,246.83 L710.01,247.37 L710.21,247.90 L710.40,248.44 L710.60,248.98 L710.80,249.52 L710.99,250.06 L711.19,250.59 L711.38,251.13 L711.57,251.67 L711.77,252.20 L711.96,252.74 L712.16,253.28 L712.35,253.81 L712.55,254.35 L712.74,254.89 L712.94,255.42 L713.13,255.96 L713.33,256.49 L713.52,257.03 L713.72,257.56 L713.91,258.10 L714.11,258.63 L714.30,259.17 L714.50,259.70 L714.69,260.24 L714.89,260.77 L715.08,261.30 L715.28,261.84 L715.47,262.37 L715.67,262.90 L715.87,263.43 L716.06,263.97 L716.26,264.50 L716.46,265.03 L716.65,265.56 L716.85,266.09 L717.05,266.62 L717.25,267.15 L717.45,267.68 L717.65,268.21 L717.85,268.74 L718.05,269.27 L718.25,269.80 L718.45,270.33 L718.65,270.86 L718.85,271.39 L719.05,271.91 L719.26,272.44 L719.46,272.97 L719.66,273.50 L719.87,274.02 L720.07,274.55 L720.28,275.07 L720.48,275.60 L720.69,276.12 L720.90,276.65 L721.10,277.17 L721.31,277.70 L721.52,278.22 L721.73,278.74 L721.94,279.27 L722.15,279.79 L722.36,280.31 L722.57,280.83 L722.79,281.35 L723.00,281.87 L723.22,282.39 L723.43,282.91 L723.65,283.43 L723.86,283.95 L724.08,284.47 L724.30,284.99 L724.52,285.50 L724.74,286.02 L724.96,286.54 L725.18,287.05 L725.41,287.57 L725.63,288.09 L725.85,288.60 L726.08,289.11 L726.31,289.63 L726.53,290.14 L726.76,290.65 L726.99,291.17 L727.22,291.68 L727.46,292.19 L727.69,292.70 L727.92,293.21 L728.16,293.72 L728.39,294.23 L728.63,294.74 L728.87,295.25 L729.11,295.76 L729.35,296.26 L729.59,296.77 L729.83,297.28 L730.08,297.78 L730.32,298.29 L730.57,298.79 L730.82,299.29 L731.06,299.80 L731.32,300.30 L731.57,300.80 L731.82,301.30 L732.07,301.80 L732.33,302.30 L732.59,302.80 L732.84,303.30 L733.10,303.80 L733.36,304.30 L733.63,304.80 L733.89,305.29 L734.16,305.79 L734.42,306.29 L734.69,306.78 L734.96,307.27 L735.23,307.77 L735.50,308.26 L735.78,308.75 L736.05,309.24 L736.33,309.74 L736.61,310.23 L736.89,310.72 L737.17,311.20 L737.46,311.69 L737.74,312.18 L738.03,312.67 L738.32,313.15 L738.61,313.64 L738.90,314.12 L739.19,314.61 L739.49,315.09 L739.78,315.57 L740.08,316.06 L740.38,316.54 L740.68,317.02 L740.99,317.50 L741.29,317.98 L741.60,318.45 L741.91,318.93 L742.22,319.41 L742.54,319.88 L742.85,320.36 L743.17,320.83 L743.49,321.30 L743.81,321.78 L744.13,322.25 L744.45,322.72 L744.78,323.19 L745.11,323.65 L745.44,324.12 L745.77,324.58 L746.10,325.05 L746.44,325.51 L746.78,325.97 L747.12,326.43 L747.46,326.89 L747.80,327.34 L748.15,327.80 L748.49,328.25 L748.84,328.70 L749.19,329.15 L749.55,329.60 L749.90,330.05 L750.26,330.49 L750.62,330.93 L750.98,331.38 L751.34,331.81 L751.71,332.25 L752.08,332.69 L752.45,333.12 L752.82,333.55 L753.19,333.98 L753.57,334.41 L753.94,334.83 L754.32,335.25 L754.71,335.67 L755.09,336.09 L755.48,336.51 L755.86,336.92 L756.25,337.33 L756.65,337.74 L757.04,338.15 L757.44,338.55 L757.84,338.95 L758.24,339.35 L758.64,339.74 L759.05,340.14 L759.46,340.53 L759.87,340.91 L760.28,341.30 L760.69,341.68 L761.11,342.06 L761.53,342.43 L761.95,342.81 L762.37,343.17 L762.80,343.54 L763.22,343.91 L763.65,344.27 L764.09,344.62 L764.52,344.98 L764.96,345.33 L765.40,345.68 L765.84,346.02 L766.28,346.36 L766.73,346.70 L767.18,347.03 L767.63,347.36 L768.08,347.69 L768.54,348.01 L768.99,348.33 L769.45,348.65 L769.92,348.96 L770.38,349.27 L770.85,349.57 L771.32,349.88 L771.79,350.17 L772.27,350.47 L772.74,350.76 L773.22,351.04 L773.70,351.32 L774.19,351.60 L774.67,351.87 L775.16,352.14 L775.65,352.41 L776.15,352.67 L776.64,352.93 L777.14,353.18 L777.65,353.43 L778.15,353.67 L778.66,353.91 L779.16,354.15 L779.68,354.38 L780.19,354.60 L780.71,354.82 L781.23,355.04 L781.75,355.25 L782.27,355.46 L782.80,355.66 L783.33,355.86 L783.86,356.05 L784.39,356.24 L784.93,356.43 L785.47,356.61 L786.01,356.78 L786.56,356.95 L787.11,357.11 L787.66,357.27 L788.21,357.42 L788.76,357.57 L789.32,357.72 L789.88,357.85 L790.45,357.99 L791.01,358.11 L791.58,358.24 L792.15,358.35 L792.73,358.46 L793.30,358.57 L793.88,358.67 L794.47,358.77 L795.05,358.85 L795.64,358.94 L796.23,359.02 L796.82,359.09 C799.85,359.49 806.14,360.88 815.00,361.50 C823.86,362.12 831.17,362.45 850.00,362.80 C868.83,363.15 915.00,363.47 928.00,363.60" stroke="#FF0000" stroke-width="2.1"/>
<path d="M669.26,357.30 L669.38,356.71 L669.49,356.12 L669.60,355.53 L669.71,354.94 L669.82,354.35 L669.93,353.77 L670.03,353.18 L670.14,352.59 L670.25,352.00 L670.35,351.41 L670.46,350.82 L670.56,350.23 L670.66,349.64 L670.76,349.04 L670.86,348.45 L670.96,347.86 L671.06,347.27 L671.16,346.68 L671.26,346.09 L671.35,345.49 L671.45,344.90 L671.55,344.31 L671.64,343.72 L671.73,343.12 L671.83,342.53 L671.92,341.94 L672.01,341.34 L672.10,340.75 L672.19,340.15 L672.28,339.56 L672.37,338.97 L672.46,338.37 L672.55,337.78 L672.63,337.18 L672.72,336.59 L672.80,335.99 L672.89,335.40 L672.97,334.80 L673.06,334.20 L673.14,333.61 L673.22,333.01 L673.30,332.42 L673.38,331.82 L673.46,331.22 L673.54,330.63 L673.62,330.03 L673.70,329.43 L673.78,328.84 L673.85,328.24 L673.93,327.64 L674.01,327.04 L674.08,326.45 L674.16,325.85 L674.23,325.25 L674.31,324.65 L674.38,324.06 L674.45,323.46 L674.52,322.86 L674.60,322.26 L674.67,321.66 L674.74,321.06 L674.81,320.47 L674.88,319.87 L674.95,319.27 L675.02,318.67 L675.08,318.07 L675.15,317.47 L675.22,316.87 L675.29,316.27 L675.35,315.67 L675.42,315.08 L675.48,314.48 L675.55,313.88 L675.61,313.28 L675.68,312.68 L675.74,312.08 L675.81,311.48 L675.87,310.88 L675.93,310.28 L675.99,309.68 L676.06,309.08 L676.12,308.48 L676.18,307.88 L676.24,307.28 L676.30,306.68 L676.36,306.08 L676.42,305.48 L676.48,304.88 L676.54,304.28 L676.60,303.68 L676.66,303.08 L676.72,302.48 L676.77,301.88 L676.83,301.28 L676.89,300.69 L676.95,300.09 L677.00,299.49 L677.06,298.89 L677.12,298.29 L677.17,297.69 L677.23,297.09 L677.28,296.49 L677.34,295.89 L677.39,295.29 L677.45,294.69 L677.50,294.09 L677.56,293.49 L677.61,292.89 L677.67,292.29 L677.72,291.69 L677.78,291.09 L677.83,290.50 L677.88,289.90 L677.94,289.30 L677.99,288.70 L678.04,288.10 L678.10,287.50 L678.15,286.90 L678.20,286.30 L678.25,285.71 L678.31,285.11 L678.36,284.51 L678.41,283.91 L678.46,283.31 L678.51,282.71 L678.57,282.12 L678.62,281.52 L678.67,280.92 L678.72,280.32 L678.77,279.73 L678.83,279.13 L678.88,278.53 L678.93,277.93 L678.98,277.34 L679.03,276.74 L679.09,276.14 L679.14,275.55 L679.19,274.95 L679.24,274.35 L679.30,273.76 L679.35,273.16 L679.40,272.56 L679.45,271.97 L679.51,271.37 L679.56,270.77 L679.61,270.18 L679.67,269.58 L679.72,268.99 L679.78,268.39 L679.83,267.79 L679.89,267.20 L679.94,266.60 L680.00,266.00 L680.05,265.41 L680.11,264.81 L680.16,264.22 L680.22,263.62 L680.28,263.02 L680.34,262.43 L680.39,261.83 L680.45,261.24 L680.51,260.64 L680.57,260.04 L680.63,259.45 L680.69,258.85 L680.75,258.26 L680.81,257.66 L680.88,257.06 L680.94,256.47 L681.00,255.87 L681.06,255.27 L681.13,254.68 L681.19,254.08 L681.26,253.49 L681.33,252.89 L681.39,252.29 L681.46,251.70 L681.53,251.10 L681.60,250.50 L681.67,249.91 L681.74,249.31 L681.81,248.71 L681.88,248.12 L681.95,247.52 L682.02,246.92 L682.10,246.32 L682.17,245.73 L682.25,245.13 L682.32,244.53 L682.40,243.94 L682.48,243.34 L682.56,242.74 L682.64,242.14 L682.72,241.54 L682.80,240.95 L682.88,240.35 L682.97,239.75 L683.05,239.15 L683.14,238.55 L683.22,237.96 L683.31,237.36 L683.40,236.76 L683.49,236.16 L683.58,235.56 L683.67,234.96 L683.77,234.36 L683.86,233.76 L683.95,233.16 L684.05,232.56 L684.15,231.96 L684.25,231.36 L684.35,230.76 L684.45,230.16 L684.55,229.56 L684.65,228.96 L684.76,228.36 L684.86,227.76 L684.97,227.16 L685.07,226.56 L685.18,225.96 L685.28,225.36 L685.39,224.76 L685.49,224.16 L685.60,223.56 L685.70,222.96 L685.80,222.36 L685.90,221.76 L686.00,221.16 L686.10,220.57 L686.20,219.97 L686.29,219.37 L686.39,218.77 L686.48,218.18 L686.57,217.58 L686.65,216.99 L686.73,216.40 L686.82,215.80 L686.90,215.21 L686.98,214.62 L687.07,214.03 L687.15,213.44 L687.25,212.86 L687.35,212.27 L687.45,211.68 L687.57,211.10 L687.69,210.52 L687.83,209.93 L687.98,209.35 L688.14,208.77 L688.32,208.20 L688.51,207.62 L688.73,207.04 L688.96,206.47 L689.21,205.90 L689.48,205.33 L689.77,204.76 L690.09,204.19 L690.43,203.63 L690.79,203.08 L691.18,202.55 L691.58,202.05 L692.00,201.59 L692.44,201.18 L692.89,200.84 L693.34,200.56 L693.81,200.37 L694.28,200.26 L694.75,200.25 L695.23,200.32 L695.70,200.46 L696.18,200.67 L696.65,200.93 L697.11,201.24 L697.56,201.57 L698.00,201.93 L698.43,202.30 L698.85,202.69 L699.25,203.09 L699.64,203.50 L700.03,203.92 L700.40,204.36 L700.76,204.81 L701.11,205.26 L701.45,205.73 L701.78,206.21 L702.10,206.70 L702.42,207.20 L702.72,207.70 L703.02,208.22 L703.31,208.74 L703.59,209.27 L703.87,209.81 L704.14,210.35 L704.40,210.90 L704.66,211.45 L704.91,212.01 L705.16,212.58 L705.40,213.15 L705.63,213.72 L705.87,214.30 L706.10,214.88 L706.32,215.46 L706.55,216.04 L706.77,216.63 L706.98,217.22 L707.20,217.80 L707.41,218.39 L707.63,218.98 L707.84,219.57 L708.05,220.15 L708.26,220.74 L708.47,221.33 L708.68,221.91 L708.89,222.49 L709.10,223.07 L709.31,223.65 L709.51,224.23 L709.72,224.81 L709.93,225.39 L710.14,225.97 L710.34,226.54 L710.55,227.12 L710.75,227.69 L710.96,228.27 L711.16,228.84 L711.37,229.41 L711.57,229.98 L711.78,230.55 L711.98,231.12 L712.19,231.69 L712.39,232.26 L712.59,232.83 L712.79,233.40 L713.00,233.96 L713.20,234.53 L713.40,235.09 L713.60,235.66 L713.81,236.22 L714.01,236.79 L714.21,237.35 L714.41,237.92 L714.61,238.48 L714.81,239.04 L715.01,239.60 L715.21,240.17 L715.41,240.73 L715.61,241.29 L715.81,241.85 L716.01,242.41 L716.21,242.97 L716.41,243.53 L716.61,244.09 L716.81,244.65 L717.01,245.21 L717.21,245.77 L717.41,246.33 L717.61,246.89 L717.81,247.45 L718.01,248.01 L718.21,248.56 L718.41,249.12 L718.61,249.68 L718.81,250.24 L719.01,250.80 L719.21,251.36 L719.41,251.92 L719.62,252.48 L719.82,253.04 L720.02,253.60 L720.22,254.16 L720.42,254.72 L720.62,255.28 L720.82,255.84 L721.02,256.40 L721.23,256.96 L721.43,257.52 L721.63,258.09 L721.83,258.65 L722.04,259.21 L722.24,259.77 L722.44,260.34 L722.64,260.90 L722.85,261.47 L723.05,262.03 L723.26,262.60 L723.46,263.16 L723.67,263.73 L723.87,264.30 L724.08,264.86 L724.28,265.43 L724.49,266.00 L724.70,266.57 L724.90,267.14 L725.11,267.71 L725.31,268.28 L725.52,268.85 L725.72,269.42 L725.92,270.00 L726.12,270.57 L726.32,271.14 L726.52,271.72 L726.72,272.29 L726.91,272.86 L727.10,273.44 L727.29,274.01 L727.48,274.59 L727.66,275.16 L727.84,275.74 L728.02,276.31 L728.19,276.89 L728.36,277.46 L728.53,278.04 L728.69,278.61 L728.85,279.19 L729.00,279.76 L729.16,280.34 L729.31,280.92 L729.45,281.49 L729.60,282.07 L729.75,282.64 L729.89,283.22 L730.04,283.79 L730.18,284.36 L730.33,284.94 L730.48,285.51 L730.63,286.09 L730.78,286.66 L730.93,287.23 L731.09,287.80 L731.25,288.38 L731.41,288.95 L731.58,289.52 L731.75,290.09 L731.92,290.66 L732.11,291.23 L732.29,291.80 L732.49,292.37 L732.69,292.93 L732.89,293.50 L733.10,294.07 L733.32,294.63 L733.54,295.20 L733.77,295.76 L734.00,296.33 L734.23,296.89 L734.47,297.45 L734.71,298.01 L734.96,298.57 L735.21,299.13 L735.46,299.69 L735.72,300.25 L735.98,300.80 L736.24,301.36 L736.51,301.91 L736.77,302.47 L737.04,303.02 L737.32,303.57 L737.59,304.12 L737.86,304.67 L738.14,305.22 L738.42,305.77 L738.70,306.31 L738.98,306.85 L739.26,307.40 L739.54,307.94 L739.82,308.48 L740.10,309.02 L740.38,309.56 L740.66,310.09 L740.95,310.63 L741.23,311.16 L741.51,311.69 L741.80,312.23 L742.08,312.76 L742.37,313.28 L742.66,313.81 L742.94,314.34 L743.23,314.86 L743.52,315.39 L743.81,315.91 L744.10,316.43 L744.39,316.96 L744.69,317.48 L744.98,317.99 L745.27,318.51 L745.57,319.03 L745.87,319.55 L746.17,320.06 L746.47,320.57 L746.77,321.09 L747.07,321.60 L747.37,322.11 L747.68,322.62 L747.99,323.13 L748.29,323.64 L748.60,324.14 L748.92,324.65 L749.23,325.15 L749.54,325.66 L749.86,326.16 L750.18,326.66 L750.50,327.17 L750.82,327.67 L751.14,328.17 L751.47,328.67 L751.79,329.17 L752.12,329.66 L752.45,330.16 L752.79,330.66 L753.12,331.15 L753.46,331.65 L753.80,332.14 L754.14,332.63 L754.48,333.13 L754.83,333.62 L755.18,334.11 L755.53,334.60 L755.89,335.08 L756.24,335.57 L756.60,336.05 L756.97,336.53 L757.33,337.01 L757.70,337.49 L758.07,337.96 L758.45,338.43 L758.83,338.90 L759.21,339.36 L759.60,339.82 L759.99,340.28 L760.39,340.73 L760.78,341.18 L761.19,341.63 L761.59,342.07 L762.01,342.50 L762.42,342.94 L762.84,343.36 L763.27,343.79 L763.69,344.20 L764.13,344.62 L764.57,345.02 L765.01,345.43 L765.46,345.82 L765.92,346.21 L766.37,346.59 L766.84,346.97 L767.31,347.34 L767.79,347.71 L768.27,348.06 L768.75,348.41 L769.25,348.76 L769.74,349.10 L770.25,349.43 L770.76,349.75 L771.27,350.07 L771.78,350.38 L772.31,350.69 L772.83,350.99 L773.36,351.28 L773.90,351.57 L774.43,351.85 L774.97,352.13 L775.52,352.40 L776.07,352.66 L776.62,352.92 L777.17,353.18 L777.73,353.42 L778.29,353.67 L778.85,353.91 L779.42,354.14 L779.98,354.37 L780.55,354.59 L781.12,354.81 L781.70,355.02 L782.27,355.23 L782.85,355.43 L783.42,355.63 L784.00,355.82 L784.58,356.02 L785.16,356.20 L785.74,356.38 L786.32,356.56 L786.90,356.73 L787.48,356.90 L788.07,357.07 L788.65,357.23 L789.23,357.39 L789.81,357.54 L790.39,357.69 L790.97,357.84 L791.55,357.98 L792.12,358.12 L792.70,358.26 L793.27,358.39 L793.85,358.52 L794.42,358.65 L794.99,358.77 L795.55,358.89 L796.12,359.01 L796.68,359.12 C799.73,359.52 806.11,360.89 815.00,361.50 C823.89,362.11 831.17,362.45 850.00,362.80 C868.83,363.15 915.00,363.47 928.00,363.60" stroke="#00F000" stroke-width="2.1"/>
<path d="M668.46,352.20 L668.57,351.36 L668.68,350.51 L668.79,349.66 L668.90,348.82 L669.01,347.97 L669.12,347.13 L669.23,346.28 L669.34,345.43 L669.44,344.59 L669.55,343.74 L669.66,342.90 L669.76,342.05 L669.86,341.20 L669.97,340.36 L670.07,339.51 L670.17,338.66 L670.27,337.82 L670.37,336.97 L670.47,336.12 L670.57,335.28 L670.66,334.43 L670.76,333.58 L670.86,332.74 L670.95,331.89 L671.05,331.04 L671.14,330.19 L671.23,329.35 L671.33,328.50 L671.42,327.65 L671.51,326.81 L671.60,325.96 L671.69,325.11 L671.78,324.26 L671.87,323.42 L671.96,322.57 L672.04,321.72 L672.13,320.87 L672.22,320.03 L672.30,319.18 L672.39,318.33 L672.47,317.48 L672.56,316.63 L672.64,315.79 L672.72,314.94 L672.80,314.09 L672.89,313.24 L672.97,312.39 L673.05,311.54 L673.13,310.70 L673.21,309.85 L673.28,309.00 L673.36,308.15 L673.44,307.30 L673.52,306.45 L673.59,305.61 L673.67,304.76 L673.75,303.91 L673.82,303.06 L673.90,302.21 L673.97,301.36 L674.04,300.51 L674.12,299.66 L674.19,298.82 L674.26,297.97 L674.33,297.12 L674.41,296.27 L674.48,295.42 L674.55,294.57 L674.62,293.72 L674.69,292.87 L674.76,292.02 L674.83,291.17 L674.89,290.33 L674.96,289.48 L675.03,288.63 L675.10,287.78 L675.16,286.93 L675.23,286.08 L675.30,285.23 L675.36,284.38 L675.43,283.53 L675.49,282.68 L675.56,281.83 L675.62,280.98 L675.69,280.13 L675.75,279.28 L675.81,278.43 L675.88,277.58 L675.94,276.73 L676.00,275.88 L676.06,275.03 L676.13,274.18 L676.19,273.33 L676.25,272.48 L676.31,271.63 L676.37,270.78 L676.43,269.93 L676.49,269.08 L676.55,268.23 L676.61,267.38 L676.67,266.53 L676.73,265.68 L676.79,264.83 L676.85,263.98 L676.91,263.13 L676.97,262.28 L677.03,261.43 L677.08,260.58 L677.14,259.73 L677.20,258.88 L677.26,258.03 L677.32,257.18 L677.37,256.33 L677.43,255.48 L677.49,254.63 L677.54,253.78 L677.60,252.93 L677.66,252.08 L677.71,251.23 L677.77,250.38 L677.83,249.53 L677.88,248.68 L677.94,247.83 L678.00,246.98 L678.05,246.13 L678.11,245.28 L678.16,244.43 L678.22,243.58 L678.27,242.73 L678.33,241.88 L678.39,241.03 L678.44,240.18 L678.50,239.33 L678.55,238.48 L678.61,237.62 L678.66,236.77 L678.72,235.92 L678.77,235.07 L678.83,234.22 L678.88,233.37 L678.94,232.52 L678.99,231.67 L679.05,230.82 L679.11,229.97 L679.16,229.12 L679.22,228.27 L679.27,227.42 L679.33,226.57 L679.38,225.72 L679.44,224.87 L679.49,224.02 L679.55,223.17 L679.61,222.32 L679.66,221.47 L679.72,220.62 L679.77,219.76 L679.83,218.91 L679.89,218.06 L679.94,217.21 L680.00,216.36 L680.06,215.51 L680.11,214.66 L680.17,213.81 L680.23,212.96 L680.29,212.11 L680.34,211.26 L680.40,210.41 L680.46,209.56 L680.52,208.71 L680.58,207.86 L680.63,207.01 L680.69,206.16 L680.75,205.31 L680.81,204.46 L680.87,203.61 L680.93,202.76 L680.99,201.91 L681.05,201.06 L681.11,200.21 L681.17,199.36 L681.23,198.51 L681.29,197.66 L681.35,196.81 L681.42,195.96 L681.48,195.11 L681.54,194.26 L681.60,193.41 L681.66,192.56 L681.73,191.70 L681.79,190.85 L681.85,190.00 L681.92,189.15 L681.98,188.30 L682.05,187.45 L682.11,186.61 L682.18,185.76 L682.24,184.91 L682.31,184.06 L682.38,183.21 L682.44,182.36 L682.51,181.51 L682.58,180.66 L682.65,179.81 L682.71,178.96 L682.78,178.11 L682.85,177.26 L682.92,176.41 L682.99,175.56 L683.06,174.71 L683.13,173.86 L683.20,173.01 L683.27,172.16 L683.35,171.31 L683.42,170.46 L683.49,169.61 L683.57,168.76 L683.64,167.91 L683.71,167.06 L683.79,166.22 L683.87,165.37 L683.94,164.52 L684.02,163.67 L684.10,162.82 L684.17,161.97 L684.25,161.13 L684.33,160.28 L684.41,159.43 L684.49,158.58 L684.57,157.73 L684.65,156.89 L684.73,156.04 L684.82,155.19 L684.90,154.35 L684.98,153.50 L685.07,152.66 L685.16,151.81 L685.24,150.96 L685.33,150.12 L685.42,149.27 L685.50,148.43 L685.59,147.58 L685.68,146.74 L685.77,145.90 L685.87,145.05 L685.96,144.21 L686.05,143.37 L686.14,142.53 L686.24,141.68 L686.33,140.84 L686.43,140.00 L686.53,139.16 L686.63,138.32 L686.73,137.48 L686.83,136.64 L686.94,135.80 L687.05,134.95 L687.17,134.11 L687.29,133.27 L687.42,132.42 L687.56,131.57 L687.70,130.73 L687.85,129.88 L688.01,129.02 L688.18,128.17 L688.37,127.31 L688.56,126.45 L688.77,125.59 L688.98,124.72 L689.21,123.85 L689.46,122.98 L689.72,122.10 L689.99,121.22 L690.28,120.34 L690.59,119.45 L690.92,118.57 L691.26,117.72 L691.61,116.95 L691.97,116.29 L692.35,115.77 L692.72,115.44 L693.11,115.34 L693.50,115.47 L693.88,115.81 L694.27,116.33 L694.65,116.99 L695.03,117.74 L695.40,118.57 L695.76,119.42 L696.11,120.27 L696.45,121.11 L696.78,121.95 L697.10,122.79 L697.41,123.62 L697.71,124.45 L698.01,125.28 L698.30,126.10 L698.58,126.92 L698.85,127.74 L699.12,128.56 L699.39,129.37 L699.65,130.19 L699.91,131.00 L700.17,131.82 L700.42,132.63 L700.68,133.44 L700.93,134.26 L701.18,135.07 L701.43,135.89 L701.68,136.71 L701.93,137.52 L702.17,138.34 L702.42,139.16 L702.66,139.97 L702.91,140.79 L703.15,141.61 L703.39,142.43 L703.63,143.25 L703.87,144.07 L704.10,144.89 L704.34,145.71 L704.58,146.53 L704.81,147.36 L705.04,148.18 L705.27,149.00 L705.50,149.82 L705.73,150.65 L705.96,151.47 L706.18,152.30 L706.41,153.12 L706.63,153.95 L706.85,154.77 L707.07,155.60 L707.29,156.42 L707.51,157.25 L707.73,158.08 L707.94,158.90 L708.16,159.73 L708.37,160.56 L708.58,161.39 L708.79,162.21 L709.00,163.04 L709.21,163.87 L709.41,164.70 L709.62,165.53 L709.82,166.36 L710.02,167.19 L710.22,168.02 L710.42,168.85 L710.62,169.68 L710.82,170.51 L711.01,171.34 L711.20,172.17 L711.40,173.01 L711.59,173.84 L711.77,174.67 L711.96,175.50 L712.15,176.34 L712.33,177.17 L712.52,178.00 L712.70,178.83 L712.88,179.67 L713.06,180.50 L713.23,181.33 L713.41,182.17 L713.58,183.00 L713.75,183.84 L713.92,184.67 L714.09,185.50 L714.26,186.34 L714.43,187.17 L714.59,188.01 L714.76,188.84 L714.92,189.68 L715.08,190.51 L715.23,191.35 L715.39,192.18 L715.55,193.02 L715.70,193.85 L715.85,194.69 L716.00,195.52 L716.15,196.36 L716.30,197.20 L716.44,198.03 L716.59,198.87 L716.73,199.70 L716.87,200.54 L717.01,201.37 L717.15,202.21 L717.29,203.04 L717.42,203.88 L717.56,204.72 L717.70,205.55 L717.83,206.39 L717.97,207.22 L718.10,208.06 L718.24,208.89 L718.37,209.73 L718.51,210.56 L718.64,211.40 L718.78,212.24 L718.91,213.07 L719.05,213.91 L719.19,214.74 L719.33,215.58 L719.46,216.41 L719.60,217.25 L719.75,218.08 L719.89,218.92 L720.03,219.75 L720.18,220.58 L720.32,221.42 L720.47,222.25 L720.62,223.09 L720.78,223.92 L720.93,224.75 L721.09,225.59 L721.24,226.42 L721.41,227.25 L721.57,228.09 L721.74,228.92 L721.90,229.75 L722.08,230.58 L722.25,231.42 L722.43,232.25 L722.61,233.08 L722.79,233.91 L722.98,234.74 L723.17,235.57 L723.36,236.41 L723.55,237.24 L723.75,238.07 L723.94,238.90 L724.14,239.73 L724.35,240.56 L724.55,241.39 L724.76,242.21 L724.97,243.04 L725.18,243.87 L725.40,244.70 L725.61,245.53 L725.83,246.36 L726.05,247.18 L726.27,248.01 L726.50,248.84 L726.73,249.66 L726.95,250.49 L727.18,251.31 L727.42,252.14 L727.65,252.96 L727.88,253.79 L728.12,254.61 L728.36,255.44 L728.60,256.26 L728.84,257.08 L729.09,257.90 L729.33,258.73 L729.58,259.55 L729.82,260.37 L730.07,261.19 L730.32,262.01 L730.57,262.83 L730.83,263.65 L731.08,264.47 L731.34,265.29 L731.59,266.11 L731.85,266.92 L732.11,267.74 L732.37,268.56 L732.63,269.37 L732.89,270.19 L733.15,271.01 L733.41,271.82 L733.67,272.63 L733.94,273.45 L734.20,274.26 L734.47,275.07 L734.74,275.89 L735.00,276.70 L735.27,277.51 L735.54,278.32 L735.82,279.13 L736.09,279.94 L736.36,280.75 L736.64,281.56 L736.91,282.36 L737.19,283.17 L737.47,283.98 L737.75,284.78 L738.03,285.59 L738.31,286.39 L738.59,287.19 L738.88,288.00 L739.16,288.80 L739.45,289.60 L739.74,290.40 L740.03,291.20 L740.32,292.00 L740.62,292.80 L740.91,293.59 L741.21,294.39 L741.51,295.19 L741.81,295.98 L742.11,296.78 L742.42,297.57 L742.73,298.36 L743.03,299.15 L743.34,299.94 L743.66,300.73 L743.97,301.52 L744.28,302.31 L744.60,303.10 L744.92,303.88 L745.24,304.67 L745.57,305.45 L745.89,306.24 L746.22,307.02 L746.55,307.80 L746.88,308.58 L747.22,309.36 L747.56,310.14 L747.90,310.92 L748.24,311.70 L748.58,312.47 L748.93,313.25 L749.28,314.02 L749.63,314.79 L749.98,315.56 L750.34,316.33 L750.70,317.10 L751.06,317.87 L751.42,318.64 L751.79,319.41 L752.16,320.17 L752.53,320.93 L752.90,321.70 L753.28,322.46 L753.66,323.22 L754.05,323.98 L754.43,324.74 L754.82,325.49 L755.21,326.25 L755.61,327.00 L756.00,327.76 L756.41,328.51 L756.81,329.26 L757.22,330.01 L757.63,330.75 L758.04,331.50 L758.46,332.25 L758.87,332.99 L759.30,333.73 L759.72,334.48 L760.15,335.22 L760.58,335.95 L761.02,336.69 L761.46,337.43 L761.91,338.16 L762.36,338.89 L762.81,339.61 L763.27,340.33 L763.74,341.05 L764.22,341.75 L764.70,342.46 L765.19,343.15 L765.69,343.84 L766.20,344.52 L766.71,345.20 L767.24,345.86 L767.78,346.51 L768.33,347.16 L768.89,347.79 L769.46,348.41 L770.04,349.02 L770.64,349.62 L771.24,350.21 L771.87,350.78 L772.50,351.34 L773.15,351.88 L773.82,352.41 L774.50,352.92 L775.20,353.42 L775.91,353.90 L776.64,354.36 L777.38,354.81 L778.14,355.23 L778.90,355.64 L779.68,356.03 L780.47,356.40 L781.27,356.75 L782.08,357.07 L782.89,357.38 L783.72,357.66 L784.54,357.92 L785.37,358.16 L786.21,358.37 L787.05,358.56 L787.89,358.73 L788.73,358.87 L789.57,358.98 C792.14,359.47 798.26,361.25 805.00,361.90 C811.74,362.55 819.17,362.65 830.00,362.90 C840.83,363.15 853.67,363.28 870.00,363.40 C886.33,363.52 918.33,363.57 928.00,363.60" stroke="#FFA000" stroke-width="2.1"/>
<path d="M668.41,349.22 L668.56,348.29 L668.71,347.35 L668.85,346.42 L668.99,345.48 L669.13,344.55 L669.27,343.61 L669.41,342.68 L669.54,341.75 L669.68,340.81 L669.81,339.88 L669.93,338.94 L670.06,338.01 L670.19,337.07 L670.31,336.13 L670.43,335.20 L670.55,334.26 L670.67,333.33 L670.79,332.39 L670.90,331.46 L671.01,330.52 L671.12,329.59 L671.23,328.65 L671.34,327.72 L671.45,326.78 L671.55,325.84 L671.66,324.91 L671.76,323.97 L671.86,323.04 L671.96,322.10 L672.05,321.16 L672.15,320.23 L672.25,319.29 L672.34,318.35 L672.43,317.42 L672.52,316.48 L672.61,315.55 L672.70,314.61 L672.78,313.67 L672.87,312.74 L672.95,311.80 L673.04,310.86 L673.12,309.93 L673.20,308.99 L673.28,308.05 L673.35,307.12 L673.43,306.18 L673.51,305.24 L673.58,304.30 L673.66,303.37 L673.73,302.43 L673.80,301.49 L673.87,300.56 L673.94,299.62 L674.01,298.68 L674.08,297.74 L674.15,296.81 L674.21,295.87 L674.28,294.93 L674.34,293.99 L674.41,293.06 L674.47,292.12 L674.53,291.18 L674.59,290.24 L674.65,289.31 L674.71,288.37 L674.77,287.43 L674.83,286.49 L674.89,285.55 L674.95,284.62 L675.00,283.68 L675.06,282.74 L675.12,281.80 L675.17,280.86 L675.23,279.93 L675.28,278.99 L675.33,278.05 L675.39,277.11 L675.44,276.17 L675.49,275.24 L675.55,274.30 L675.60,273.36 L675.65,272.42 L675.70,271.48 L675.75,270.54 L675.80,269.60 L675.85,268.67 L675.90,267.73 L675.95,266.79 L676.00,265.85 L676.05,264.91 L676.10,263.97 L676.15,263.03 L676.20,262.10 L676.25,261.16 L676.30,260.22 L676.35,259.28 L676.40,258.34 L676.45,257.40 L676.50,256.46 L676.55,255.52 L676.60,254.58 L676.65,253.64 L676.70,252.71 L676.75,251.77 L676.80,250.83 L676.85,249.89 L676.90,248.95 L676.95,248.01 L677.00,247.07 L677.05,246.13 L677.10,245.19 L677.16,244.25 L677.21,243.31 L677.26,242.37 L677.31,241.43 L677.36,240.50 L677.41,239.56 L677.46,238.62 L677.51,237.68 L677.57,236.74 L677.62,235.80 L677.67,234.86 L677.72,233.92 L677.77,232.98 L677.83,232.04 L677.88,231.10 L677.93,230.16 L677.98,229.22 L678.04,228.28 L678.09,227.34 L678.14,226.40 L678.19,225.46 L678.25,224.52 L678.30,223.58 L678.35,222.64 L678.40,221.70 L678.46,220.76 L678.51,219.82 L678.56,218.88 L678.62,217.94 L678.67,217.00 L678.72,216.06 L678.78,215.12 L678.83,214.18 L678.88,213.24 L678.94,212.30 L678.99,211.36 L679.04,210.42 L679.10,209.48 L679.15,208.54 L679.20,207.60 L679.26,206.66 L679.31,205.72 L679.37,204.78 L679.42,203.84 L679.47,202.90 L679.53,201.96 L679.58,201.02 L679.64,200.08 L679.69,199.14 L679.75,198.20 L679.80,197.26 L679.85,196.32 L679.91,195.38 L679.96,194.44 L680.02,193.50 L680.07,192.56 L680.13,191.62 L680.18,190.68 L680.23,189.74 L680.29,188.80 L680.34,187.86 L680.40,186.92 L680.45,185.98 L680.51,185.04 L680.56,184.10 L680.62,183.16 L680.67,182.22 L680.73,181.28 L680.78,180.34 L680.83,179.40 L680.89,178.46 L680.94,177.52 L681.00,176.58 L681.05,175.64 L681.11,174.70 L681.16,173.76 L681.22,172.82 L681.27,171.88 L681.33,170.94 L681.38,170.00 L681.44,169.06 L681.49,168.12 L681.55,167.18 L681.60,166.24 L681.66,165.30 L681.71,164.36 L681.76,163.42 L681.82,162.47 L681.87,161.53 L681.93,160.59 L681.98,159.65 L682.04,158.71 L682.09,157.77 L682.15,156.83 L682.20,155.89 L682.26,154.95 L682.31,154.01 L682.37,153.07 L682.42,152.13 L682.47,151.19 L682.53,150.25 L682.58,149.31 L682.64,148.37 L682.70,147.43 L682.75,146.49 L682.81,145.56 L682.87,144.62 L682.93,143.68 L682.99,142.74 L683.04,141.80 L683.11,140.86 L683.17,139.92 L683.23,138.98 L683.29,138.05 L683.36,137.11 L683.43,136.17 L683.49,135.23 L683.56,134.30 L683.63,133.36 L683.70,132.42 L683.78,131.49 L683.85,130.55 L683.93,129.62 L684.01,128.68 L684.09,127.75 L684.17,126.81 L684.26,125.88 L684.34,124.94 L684.43,124.01 L684.52,123.08 L684.62,122.15 L684.71,121.21 L684.81,120.28 L684.91,119.35 L685.01,118.42 L685.12,117.49 L685.23,116.56 L685.34,115.64 L685.45,114.71 L685.57,113.78 L685.69,112.85 L685.81,111.93 L685.94,111.00 L686.07,110.08 L686.20,109.15 L686.33,108.22 L686.47,107.30 L686.61,106.37 L686.76,105.44 L686.91,104.51 L687.06,103.58 L687.22,102.64 L687.38,101.71 L687.55,100.77 L687.71,99.83 L687.89,98.88 L688.06,97.93 L688.24,96.98 L688.43,96.02 L688.63,95.06 L688.84,94.10 L689.09,93.13 L689.37,92.17 L689.70,91.20 L690.07,90.23 L690.50,89.29 L690.97,88.42 L691.45,87.70 L691.95,87.19 L692.44,86.95 L692.90,87.02 L693.34,87.39 L693.76,88.00 L694.16,88.77 L694.54,89.65 L694.90,90.57 L695.24,91.50 L695.57,92.42 L695.89,93.34 L696.19,94.25 L696.49,95.17 L696.78,96.08 L697.06,97.00 L697.35,97.91 L697.62,98.82 L697.90,99.74 L698.17,100.65 L698.44,101.57 L698.71,102.48 L698.98,103.39 L699.24,104.31 L699.50,105.23 L699.75,106.14 L700.01,107.06 L700.26,107.97 L700.51,108.89 L700.75,109.81 L700.99,110.72 L701.23,111.64 L701.47,112.56 L701.70,113.48 L701.93,114.40 L702.15,115.31 L702.37,116.23 L702.59,117.15 L702.80,118.07 L703.02,118.99 L703.22,119.91 L703.43,120.83 L703.62,121.75 L703.82,122.67 L704.01,123.59 L704.20,124.51 L704.38,125.43 L704.56,126.35 L704.74,127.27 L704.91,128.20 L705.08,129.12 L705.24,130.04 L705.41,130.96 L705.57,131.88 L705.73,132.81 L705.88,133.73 L706.04,134.65 L706.19,135.57 L706.34,136.50 L706.49,137.42 L706.64,138.34 L706.79,139.27 L706.94,140.19 L707.09,141.11 L707.24,142.04 L707.39,142.96 L707.55,143.89 L707.70,144.81 L707.85,145.73 L708.01,146.66 L708.17,147.58 L708.33,148.51 L708.49,149.43 L708.66,150.36 L708.83,151.28 L709.00,152.21 L709.17,153.13 L709.35,154.06 L709.53,154.98 L709.71,155.91 L709.89,156.84 L710.08,157.76 L710.26,158.69 L710.45,159.61 L710.64,160.54 L710.83,161.46 L711.02,162.39 L711.22,163.32 L711.41,164.24 L711.61,165.17 L711.80,166.10 L712.00,167.02 L712.19,167.95 L712.39,168.87 L712.58,169.80 L712.78,170.73 L712.97,171.65 L713.16,172.58 L713.36,173.51 L713.55,174.43 L713.74,175.36 L713.93,176.29 L714.12,177.21 L714.30,178.14 L714.49,179.06 L714.67,179.99 L714.85,180.92 L715.03,181.84 L715.21,182.77 L715.38,183.70 L715.55,184.62 L715.72,185.55 L715.88,186.48 L716.04,187.40 L716.20,188.33 L716.36,189.25 L716.51,190.18 L716.66,191.11 L716.80,192.03 L716.94,192.96 L717.07,193.88 L717.21,194.81 L717.34,195.74 L717.47,196.66 L717.59,197.59 L717.72,198.51 L717.84,199.44 L717.96,200.36 L718.08,201.29 L718.20,202.21 L718.32,203.14 L718.44,204.06 L718.56,204.99 L718.68,205.91 L718.81,206.84 L718.93,207.76 L719.05,208.69 L719.18,209.61 L719.31,210.53 L719.44,211.46 L719.57,212.38 L719.71,213.30 L719.85,214.23 L719.99,215.15 L720.14,216.07 L720.29,217.00 L720.44,217.92 L720.60,218.84 L720.76,219.77 L720.93,220.69 L721.09,221.61 L721.26,222.53 L721.44,223.45 L721.61,224.38 L721.79,225.30 L721.98,226.22 L722.16,227.14 L722.35,228.06 L722.54,228.98 L722.74,229.90 L722.93,230.82 L723.13,231.74 L723.33,232.66 L723.54,233.58 L723.75,234.50 L723.96,235.42 L724.17,236.34 L724.38,237.26 L724.60,238.18 L724.82,239.10 L725.04,240.01 L725.26,240.93 L725.49,241.85 L725.72,242.77 L725.95,243.68 L726.18,244.60 L726.41,245.52 L726.65,246.43 L726.88,247.35 L727.12,248.26 L727.36,249.18 L727.60,250.09 L727.85,251.01 L728.09,251.92 L728.34,252.84 L728.59,253.75 L728.83,254.67 L729.09,255.58 L729.34,256.49 L729.59,257.40 L729.84,258.32 L730.10,259.23 L730.35,260.14 L730.61,261.05 L730.87,261.96 L731.13,262.87 L731.39,263.78 L731.65,264.69 L731.91,265.60 L732.18,266.51 L732.45,267.42 L732.71,268.33 L732.98,269.23 L733.25,270.14 L733.52,271.05 L733.80,271.95 L734.07,272.86 L734.35,273.76 L734.63,274.67 L734.90,275.57 L735.19,276.47 L735.47,277.37 L735.75,278.27 L736.04,279.17 L736.33,280.07 L736.62,280.97 L736.91,281.87 L737.20,282.77 L737.50,283.66 L737.79,284.56 L738.09,285.45 L738.39,286.35 L738.70,287.24 L739.00,288.13 L739.31,289.02 L739.62,289.91 L739.93,290.80 L740.24,291.69 L740.56,292.57 L740.88,293.46 L741.20,294.34 L741.52,295.23 L741.84,296.11 L742.17,296.99 L742.50,297.87 L742.83,298.75 L743.17,299.63 L743.50,300.51 L743.84,301.38 L744.18,302.26 L744.53,303.13 L744.87,304.00 L745.22,304.87 L745.58,305.74 L745.93,306.61 L746.29,307.48 L746.65,308.34 L747.01,309.21 L747.37,310.07 L747.74,310.93 L748.11,311.79 L748.49,312.65 L748.86,313.50 L749.24,314.36 L749.62,315.21 L750.01,316.07 L750.40,316.92 L750.79,317.77 L751.18,318.61 L751.58,319.46 L751.98,320.30 L752.38,321.15 L752.79,321.99 L753.20,322.83 L753.61,323.66 L754.03,324.50 L754.45,325.33 L754.87,326.17 L755.30,327.00 L755.73,327.83 L756.16,328.65 L756.60,329.48 L757.04,330.30 L757.48,331.12 L757.93,331.94 L758.38,332.76 L758.83,333.58 L759.29,334.39 L759.75,335.20 L760.21,336.01 L760.68,336.82 L761.15,337.63 L761.63,338.43 L762.11,339.23 L762.60,340.03 L763.10,340.82 L763.60,341.60 L764.12,342.38 L764.64,343.15 L765.18,343.91 L765.73,344.66 L766.29,345.40 L766.87,346.13 L767.46,346.85 L768.07,347.56 L768.70,348.25 L769.34,348.93 L770.00,349.59 L770.69,350.24 L771.39,350.88 L772.12,351.49 L772.87,352.09 L773.64,352.66 L774.44,353.22 L775.27,353.76 L776.12,354.28 L776.99,354.77 L777.88,355.24 L778.78,355.69 L779.70,356.11 L780.62,356.51 L781.55,356.88 L782.47,357.22 L783.40,357.54 L784.31,357.82 L785.22,358.08 L786.11,358.31 L786.99,358.51 L787.84,358.67 L788.68,358.80 L789.48,358.90 C792.07,359.40 798.25,361.23 805.00,361.90 C811.75,362.57 819.17,362.65 830.00,362.90 C840.83,363.15 853.67,363.28 870.00,363.40 C886.33,363.52 918.33,363.57 928.00,363.60" stroke="#FF00FF" stroke-width="2.1"/>
<path d="M668.44,347.80 L668.57,346.80 L668.71,345.80 L668.84,344.80 L668.96,343.80 L669.09,342.80 L669.21,341.79 L669.34,340.79 L669.46,339.79 L669.57,338.79 L669.69,337.79 L669.81,336.79 L669.92,335.79 L670.03,334.79 L670.14,333.79 L670.25,332.79 L670.36,331.78 L670.47,330.78 L670.57,329.78 L670.67,328.78 L670.77,327.78 L670.87,326.78 L670.97,325.77 L671.07,324.77 L671.16,323.77 L671.26,322.77 L671.35,321.76 L671.44,320.76 L671.53,319.76 L671.62,318.76 L671.71,317.75 L671.79,316.75 L671.88,315.75 L671.96,314.75 L672.04,313.74 L672.13,312.74 L672.21,311.74 L672.28,310.73 L672.36,309.73 L672.44,308.73 L672.51,307.72 L672.59,306.72 L672.66,305.71 L672.73,304.71 L672.80,303.71 L672.87,302.70 L672.94,301.70 L673.01,300.69 L673.08,299.69 L673.15,298.69 L673.21,297.68 L673.28,296.68 L673.34,295.67 L673.40,294.67 L673.46,293.66 L673.53,292.66 L673.59,291.65 L673.65,290.65 L673.70,289.64 L673.76,288.64 L673.82,287.63 L673.88,286.63 L673.93,285.62 L673.99,284.62 L674.04,283.61 L674.10,282.61 L674.15,281.60 L674.20,280.60 L674.26,279.59 L674.31,278.59 L674.36,277.58 L674.41,276.58 L674.46,275.57 L674.51,274.56 L674.56,273.56 L674.61,272.55 L674.66,271.55 L674.71,270.54 L674.76,269.54 L674.81,268.53 L674.85,267.52 L674.90,266.52 L674.95,265.51 L674.99,264.51 L675.04,263.50 L675.09,262.49 L675.13,261.49 L675.18,260.48 L675.23,259.48 L675.27,258.47 L675.32,257.46 L675.36,256.46 L675.41,255.45 L675.45,254.44 L675.50,253.44 L675.54,252.43 L675.59,251.42 L675.63,250.42 L675.68,249.41 L675.73,248.41 L675.77,247.40 L675.82,246.39 L675.86,245.39 L675.91,244.38 L675.95,243.37 L676.00,242.37 L676.05,241.36 L676.09,240.35 L676.14,239.35 L676.19,238.34 L676.24,237.33 L676.28,236.33 L676.33,235.32 L676.38,234.31 L676.43,233.31 L676.48,232.30 L676.53,231.29 L676.58,230.29 L676.63,229.28 L676.68,228.27 L676.73,227.27 L676.78,226.26 L676.84,225.25 L676.89,224.25 L676.94,223.24 L677.00,222.23 L677.05,221.23 L677.10,220.22 L677.16,219.21 L677.21,218.21 L677.27,217.20 L677.33,216.19 L677.38,215.19 L677.44,214.18 L677.50,213.17 L677.55,212.17 L677.61,211.16 L677.67,210.15 L677.73,209.15 L677.78,208.14 L677.84,207.13 L677.90,206.13 L677.96,205.12 L678.02,204.12 L678.08,203.11 L678.14,202.10 L678.20,201.10 L678.26,200.09 L678.32,199.08 L678.38,198.08 L678.44,197.07 L678.51,196.07 L678.57,195.06 L678.63,194.05 L678.69,193.05 L678.75,192.04 L678.81,191.04 L678.88,190.03 L678.94,189.02 L679.00,188.02 L679.07,187.01 L679.13,186.01 L679.19,185.00 L679.25,183.99 L679.32,182.99 L679.38,181.98 L679.44,180.98 L679.51,179.97 L679.57,178.97 L679.64,177.96 L679.70,176.96 L679.76,175.95 L679.83,174.95 L679.89,173.94 L679.96,172.94 L680.02,171.93 L680.08,170.92 L680.15,169.92 L680.21,168.92 L680.28,167.91 L680.34,166.91 L680.40,165.90 L680.47,164.90 L680.53,163.89 L680.59,162.89 L680.66,161.88 L680.72,160.88 L680.79,159.87 L680.85,158.87 L680.91,157.87 L680.98,156.86 L681.04,155.86 L681.10,154.85 L681.17,153.85 L681.23,152.85 L681.29,151.84 L681.35,150.84 L681.42,149.83 L681.48,148.83 L681.54,147.83 L681.60,146.82 L681.67,145.82 L681.73,144.82 L681.79,143.81 L681.85,142.81 L681.91,141.81 L681.97,140.81 L682.03,139.80 L682.09,138.80 L682.15,137.80 L682.21,136.80 L682.27,135.79 L682.33,134.79 L682.39,133.79 L682.45,132.79 L682.51,131.78 L682.57,130.78 L682.63,129.78 L682.69,128.78 L682.75,127.78 L682.81,126.77 L682.87,125.77 L682.93,124.77 L682.99,123.77 L683.05,122.77 L683.11,121.77 L683.18,120.76 L683.24,119.76 L683.31,118.76 L683.38,117.76 L683.44,116.76 L683.51,115.75 L683.59,114.75 L683.66,113.75 L683.74,112.75 L683.81,111.74 L683.89,110.74 L683.97,109.74 L684.06,108.73 L684.14,107.73 L684.23,106.73 L684.32,105.72 L684.41,104.72 L684.51,103.71 L684.61,102.71 L684.71,101.71 L684.81,100.70 L684.92,99.70 L685.03,98.69 L685.15,97.68 L685.27,96.68 L685.39,95.67 L685.51,94.66 L685.64,93.66 L685.77,92.65 L685.91,91.64 L686.05,90.63 L686.19,89.63 L686.34,88.62 L686.49,87.61 L686.65,86.60 L686.81,85.59 L686.98,84.58 L687.15,83.57 L687.32,82.55 L687.50,81.54 L687.69,80.53 L687.88,79.52 L688.08,78.50 L688.28,77.49 L688.49,76.47 L688.70,75.46 L688.92,74.45 L689.16,73.43 L689.41,72.42 L689.67,71.41 L689.95,70.40 L690.24,69.40 L690.56,68.42 L690.89,67.55 L691.25,66.83 L691.63,66.33 L692.04,66.12 L692.48,66.24 L692.94,66.65 L693.40,67.29 L693.87,68.11 L694.33,69.04 L694.77,70.01 L695.18,70.99 L695.58,71.97 L695.95,72.95 L696.31,73.93 L696.64,74.92 L696.96,75.90 L697.26,76.88 L697.55,77.86 L697.83,78.85 L698.09,79.83 L698.35,80.81 L698.59,81.80 L698.83,82.78 L699.06,83.77 L699.29,84.75 L699.51,85.74 L699.73,86.72 L699.95,87.71 L700.17,88.69 L700.39,89.68 L700.60,90.67 L700.82,91.65 L701.03,92.64 L701.24,93.63 L701.44,94.61 L701.65,95.60 L701.86,96.59 L702.06,97.57 L702.26,98.56 L702.46,99.55 L702.66,100.54 L702.86,101.52 L703.05,102.51 L703.25,103.50 L703.44,104.49 L703.64,105.47 L703.83,106.46 L704.02,107.45 L704.21,108.44 L704.40,109.43 L704.58,110.42 L704.77,111.41 L704.96,112.40 L705.14,113.38 L705.33,114.37 L705.51,115.36 L705.70,116.35 L705.88,117.34 L706.06,118.33 L706.24,119.32 L706.43,120.31 L706.61,121.30 L706.79,122.29 L706.97,123.28 L707.15,124.27 L707.33,125.26 L707.51,126.25 L707.69,127.24 L707.87,128.23 L708.05,129.22 L708.23,130.21 L708.41,131.20 L708.59,132.19 L708.77,133.19 L708.95,134.18 L709.13,135.17 L709.31,136.16 L709.49,137.15 L709.67,138.14 L709.86,139.13 L710.04,140.12 L710.22,141.11 L710.41,142.11 L710.59,143.10 L710.78,144.09 L710.96,145.08 L711.15,146.07 L711.34,147.06 L711.53,148.05 L711.72,149.05 L711.91,150.04 L712.10,151.03 L712.29,152.02 L712.48,153.01 L712.67,154.00 L712.86,155.00 L713.06,155.99 L713.25,156.98 L713.44,157.97 L713.64,158.96 L713.83,159.95 L714.03,160.95 L714.22,161.94 L714.42,162.93 L714.61,163.92 L714.80,164.91 L715.00,165.90 L715.19,166.90 L715.39,167.89 L715.58,168.88 L715.77,169.87 L715.97,170.86 L716.16,171.85 L716.35,172.84 L716.54,173.84 L716.73,174.83 L716.92,175.82 L717.11,176.81 L717.30,177.80 L717.49,178.79 L717.68,179.78 L717.86,180.78 L718.05,181.77 L718.23,182.76 L718.42,183.75 L718.60,184.74 L718.78,185.73 L718.96,186.72 L719.14,187.71 L719.32,188.70 L719.50,189.69 L719.67,190.69 L719.85,191.68 L720.02,192.67 L720.19,193.66 L720.36,194.65 L720.52,195.64 L720.69,196.63 L720.86,197.62 L721.02,198.61 L721.18,199.60 L721.34,200.59 L721.50,201.58 L721.66,202.57 L721.82,203.56 L721.98,204.55 L722.13,205.54 L722.29,206.53 L722.45,207.52 L722.61,208.50 L722.76,209.49 L722.92,210.48 L723.08,211.47 L723.23,212.46 L723.39,213.45 L723.55,214.44 L723.71,215.43 L723.87,216.41 L724.03,217.40 L724.20,218.39 L724.36,219.38 L724.53,220.37 L724.69,221.35 L724.86,222.34 L725.03,223.33 L725.20,224.32 L725.38,225.30 L725.55,226.29 L725.73,227.28 L725.91,228.26 L726.09,229.25 L726.28,230.23 L726.46,231.22 L726.65,232.21 L726.84,233.19 L727.03,234.18 L727.23,235.16 L727.42,236.15 L727.62,237.13 L727.82,238.12 L728.03,239.10 L728.23,240.09 L728.44,241.07 L728.64,242.05 L728.85,243.04 L729.07,244.02 L729.28,245.00 L729.50,245.98 L729.72,246.97 L729.94,247.95 L730.16,248.93 L730.39,249.91 L730.61,250.89 L730.84,251.87 L731.07,252.85 L731.31,253.83 L731.54,254.81 L731.78,255.79 L732.02,256.77 L732.26,257.75 L732.50,258.72 L732.75,259.70 L733.00,260.68 L733.24,261.66 L733.50,262.63 L733.75,263.61 L734.01,264.58 L734.27,265.56 L734.53,266.53 L734.79,267.51 L735.05,268.48 L735.32,269.45 L735.59,270.43 L735.86,271.40 L736.13,272.37 L736.41,273.34 L736.68,274.31 L736.96,275.28 L737.25,276.25 L737.53,277.22 L737.82,278.19 L738.10,279.16 L738.39,280.13 L738.69,281.09 L738.98,282.06 L739.28,283.03 L739.58,283.99 L739.88,284.96 L740.18,285.92 L740.49,286.88 L740.79,287.85 L741.10,288.81 L741.42,289.77 L741.73,290.73 L742.05,291.69 L742.36,292.65 L742.69,293.61 L743.01,294.57 L743.33,295.53 L743.66,296.49 L743.99,297.44 L744.32,298.40 L744.66,299.36 L744.99,300.31 L745.33,301.26 L745.67,302.22 L746.01,303.17 L746.36,304.12 L746.71,305.07 L747.06,306.02 L747.41,306.97 L747.76,307.92 L748.12,308.87 L748.48,309.82 L748.84,310.76 L749.20,311.71 L749.57,312.65 L749.93,313.60 L750.30,314.54 L750.68,315.48 L751.05,316.43 L751.43,317.37 L751.81,318.31 L752.19,319.25 L752.57,320.18 L752.96,321.12 L753.34,322.06 L753.74,322.99 L754.13,323.93 L754.52,324.86 L754.92,325.80 L755.32,326.73 L755.73,327.65 L756.14,328.58 L756.56,329.50 L756.98,330.41 L757.41,331.32 L757.85,332.23 L758.30,333.13 L758.75,334.02 L759.21,334.91 L759.68,335.79 L760.17,336.66 L760.66,337.53 L761.16,338.38 L761.68,339.23 L762.21,340.07 L762.75,340.89 L763.30,341.71 L763.87,342.51 L764.45,343.30 L765.05,344.08 L765.67,344.85 L766.30,345.61 L766.95,346.35 L767.61,347.07 L768.29,347.78 L769.00,348.48 L769.72,349.16 L770.46,349.82 L771.22,350.47 L772.00,351.10 L772.80,351.71 L773.63,352.31 L774.48,352.88 L775.35,353.44 L776.24,353.97 L777.16,354.49 L778.09,354.98 L779.03,355.46 L779.98,355.91 L780.95,356.34 L781.91,356.74 L782.88,357.13 L783.85,357.49 L784.82,357.82 L785.78,358.13 L786.73,358.42 L787.67,358.68 L788.59,358.91 L789.50,359.12 C792.08,359.58 798.25,361.27 805.00,361.90 C811.75,362.53 819.17,362.65 830.00,362.90 C840.83,363.15 853.67,363.28 870.00,363.40 C886.33,363.52 918.33,363.57 928.00,363.60" stroke="#8F5420" stroke-width="2.1"/>
</g>
<rect x="663" y="31.1" width="265.70" height="333.50" fill="none" stroke="#000" stroke-width="2.2"/>
<line x1="663.00" y1="323.19" x2="673.20" y2="323.19" stroke="#000" stroke-width="2.2" />
<line x1="663.00" y1="281.48" x2="683.40" y2="281.48" stroke="#000" stroke-width="2.2" />
<line x1="663.00" y1="239.76" x2="673.20" y2="239.76" stroke="#000" stroke-width="2.2" />
<line x1="663.00" y1="198.05" x2="683.40" y2="198.05" stroke="#000" stroke-width="2.2" />
<line x1="663.00" y1="156.34" x2="673.20" y2="156.34" stroke="#000" stroke-width="2.2" />
<line x1="663.00" y1="114.63" x2="683.40" y2="114.63" stroke="#000" stroke-width="2.2" />
<line x1="663.00" y1="72.92" x2="673.20" y2="72.92" stroke="#000" stroke-width="2.2" />
<line x1="663.00" y1="31.20" x2="683.40" y2="31.20" stroke="#000" stroke-width="2.2" />
<line x1="662.20" y1="364.60" x2="662.20" y2="344.20" stroke="#000" stroke-width="2.2" />
<line x1="721.53" y1="364.60" x2="721.53" y2="354.40" stroke="#000" stroke-width="2.2" />
<line x1="780.86" y1="364.60" x2="780.86" y2="344.20" stroke="#000" stroke-width="2.2" />
<line x1="840.19" y1="364.60" x2="840.19" y2="354.40" stroke="#000" stroke-width="2.2" />
<line x1="899.52" y1="364.60" x2="899.52" y2="344.20" stroke="#000" stroke-width="2.2" />
<g transform="matrix(1.0,0,0,1.01,0.000,-3.744)">
<text x="631.84" y="374.40" font-size="32.6" >0</text>
</g>
<g transform="matrix(1.0,0,0,1.01,0.000,-2.910)">
<text x="613.71" y="290.98" font-size="32.6" >20</text>
</g>
<g transform="matrix(1.0,0,0,1.01,0.000,-2.076)">
<text x="613.71" y="207.55" font-size="32.6" >40</text>
</g>
<g transform="matrix(1.0,0,0,1.01,0.000,-1.241)">
<text x="613.71" y="124.13" font-size="32.6" >60</text>
</g>
<g transform="matrix(1.0,0,0,1.01,0.000,-0.407)">
<text x="613.71" y="40.70" font-size="32.6" >80</text>
</g>
<g transform="matrix(1.0,0,0,1.01,0.000,-4.026)">
<text x="639.14" y="402.60" font-size="32.6" >0.0</text>
</g>
<g transform="matrix(1.0,0,0,1.01,0.000,-4.026)">
<text x="757.98" y="402.60" font-size="32.6" >0.2</text>
</g>
<g transform="matrix(1.0,0,0,1.01,0.000,-4.026)">
<text x="876.30" y="402.60" font-size="32.6" >0.4</text>
</g>
<g transform="translate(590.2,206.6) rotate(-90)">
<g transform="matrix(1.0,0,0,1.03,-0.000,-0.000)">
<text x="-144.95" y="0.00" font-size="32.9" >Intensity (arb. units)</text>
</g>
</g>
<g class="gq" transform="matrix(0.03260,0,0.00714,-0.03358,718.05,453.30)"><path fill-rule="evenodd" d="M21,359 A368,378 0 1,0 757,359 A368,378 0 1,0 21,359 Z M107,359 A282,296 0 1,1 671,359 A282,296 0 1,1 107,359 Z "/><path d="M470.4,213.5 L760.4,-6.5 L709.6,-73.5 L419.6,146.5 Z"/></g>
<g transform="matrix(1.0,0,0,1.03,0.000,-13.599)">
<text x="751.48" y="453.30" font-size="32.6" >(</text>
</g>
<g transform="matrix(1.0,0,0,1.03,0.000,-13.599)">
<text x="763.64" y="453.30" font-size="32.6" >Å</text>
</g>
<rect x="784.90" y="436.30" width="12.1" height="2.0"/>
<text x="797.38" y="443.30" font-size="18.6" > </text>
<path class="g1" d="M540,0 L540,1237 L205,1010 L205,1180 L560,1409 L722,1409 L722,0 Z" transform="translate(797.38,443.30) scale(0.00908,-0.00908)"/>
<g transform="matrix(1.0,0,0,1.03,0.000,-13.599)">
<text x="810.11" y="453.30" font-size="32.6" >)</text>
</g>
<rect x="787" y="54.5" width="130.5" height="212.6" fill="#000"/>
<rect x="785" y="52.5" width="128.5" height="210.8" fill="#fff" stroke="#000" stroke-width="2"/>
<line x1="794.70" y1="73.00" x2="841.90" y2="73.00" stroke="#8F5420" stroke-width="2" />
<g transform="matrix(1.0,0,0,0.96,0.000,3.224)">
<text x="853.62" y="80.60" font-size="28.0" >48 h</text>
</g>
<line x1="794.70" y1="101.47" x2="841.90" y2="101.47" stroke="#FF00FF" stroke-width="2" />
<g transform="matrix(1.0,0,0,0.96,0.000,4.363)">
<text x="853.62" y="109.07" font-size="28.0" >24 h</text>
</g>
<line x1="794.70" y1="129.94" x2="841.90" y2="129.94" stroke="#FFA000" stroke-width="2" />
<g transform="matrix(1.0,0,0,0.96,0.000,5.502)">
<text x="853.62" y="137.54" font-size="28.0" > 6 h</text>
<path class="g1" d="M540,0 L540,1237 L205,1010 L205,1180 L560,1409 L722,1409 L722,0 Z" transform="translate(853.62,137.54) scale(0.01367,-0.01367)"/>
</g>
<line x1="794.70" y1="158.41" x2="841.90" y2="158.41" stroke="#00F000" stroke-width="2" />
<g transform="matrix(1.0,0,0,0.96,0.000,6.640)">
<text x="853.62" y="166.01" font-size="28.0" > 0 h</text>
<path class="g1" d="M540,0 L540,1237 L205,1010 L205,1180 L560,1409 L722,1409 L722,0 Z" transform="translate(853.62,166.01) scale(0.01367,-0.01367)"/>
</g>
<line x1="794.70" y1="186.88" x2="841.90" y2="186.88" stroke="#FF0000" stroke-width="2" />
<g transform="matrix(1.0,0,0,0.96,0.000,7.779)">
<text x="869.19" y="194.48" font-size="28.0" >8 h</text>
</g>
<line x1="794.70" y1="215.35" x2="841.90" y2="215.35" stroke="#00A0FF" stroke-width="2" />
<g transform="matrix(1.0,0,0,0.96,0.000,8.918)">
<text x="869.19" y="222.95" font-size="28.0" >6 h</text>
</g>
<line x1="794.70" y1="243.82" x2="841.90" y2="243.82" stroke="#0028FF" stroke-width="2" />
<g transform="matrix(1.0,0,0,0.96,0.000,10.057)">
<text x="869.19" y="251.42" font-size="28.0" >4 h</text>
</g>
<path d="M292.30,952.42 L293.30,950.68 L294.30,948.95 L295.30,947.22 L296.30,945.49 L297.30,943.77 L298.30,942.04 L299.30,940.31 L300.30,938.59 L301.30,936.87 L302.30,935.15 L303.30,933.43 L304.30,931.71 L305.30,929.99 L306.30,928.28 L307.30,926.57 L308.30,924.86 L309.30,923.15 L310.30,921.44 L311.30,919.74 L312.30,918.04 L313.30,916.34 L314.30,914.65 L315.30,912.95 L316.30,911.26 L317.30,909.58 L318.30,907.89 L319.30,906.21 L320.30,904.53 L321.30,902.85 L322.30,901.18 L323.30,899.51 L324.30,897.85 L325.30,896.18 L326.30,894.52 L327.30,892.87 L328.30,891.21 L329.30,889.57 L330.30,887.92 L331.30,886.28 L332.30,884.64 L333.30,883.01 L334.30,881.38 L335.30,879.76 L336.30,878.13 L337.30,876.52 L338.30,874.91 L339.30,873.30 L340.30,871.70 L341.30,870.10 L342.30,868.50 L343.30,866.91 L344.30,865.33 L345.30,863.75 L346.30,862.18 L347.30,860.61 L348.30,859.04 L349.30,857.48 L350.30,855.93 L351.30,854.38 L352.30,852.84 L353.30,851.30 L354.30,849.77 L355.30,848.24 L356.30,846.72 L357.30,845.21 L358.30,843.70 L359.30,842.20 L360.30,840.70 L361.30,839.21 L362.30,837.73 L363.30,836.25 L364.30,834.78 L365.30,833.31 L366.30,831.85 L367.30,830.40 L368.30,828.96 L369.30,827.52 L370.30,826.09 L371.30,824.66 L372.30,823.24 L373.30,821.83 L374.30,820.43 L375.30,819.03 L376.30,817.64 L377.30,816.26 L378.30,814.88 L379.30,813.51 L380.30,812.15 L381.30,810.79 L382.30,809.44 L383.30,808.10 L384.30,806.76 L385.30,805.44 L386.30,804.11 L387.30,802.80 L388.30,801.49 L389.30,800.19 L390.30,798.90 L391.30,797.61 L392.30,796.33 L393.30,795.06 L394.30,793.80 L395.30,792.54 L396.30,791.29 L397.30,790.04 L398.30,788.81 L399.30,787.58 L400.30,786.36 L401.30,785.14 L402.30,783.93 L403.30,782.73 L404.30,781.54 L405.30,780.35 L406.30,779.17 L407.30,778.00 L408.30,776.83 L409.30,775.67 L410.30,774.52 L411.30,773.38 L412.30,772.24 L413.30,771.11 L414.30,769.99 L415.30,768.88 L416.30,767.77 L417.30,766.67 L418.30,765.58 L419.30,764.49 L420.30,763.41 L421.30,762.34 L422.30,761.28 L423.30,760.22 L424.30,759.17 L425.30,758.13 L426.30,757.10 L427.30,756.07 L428.30,755.05 L429.30,754.04 L430.30,753.03 L431.30,752.04 L432.30,751.05 L433.30,750.07 L434.30,749.09 L435.30,748.12 L436.30,747.16 L437.30,746.21 L438.30,745.26 L439.30,744.33 L440.30,743.40 L441.30,742.47 L442.30,741.56 L443.30,740.65 L444.30,739.75 L445.30,738.86 L446.30,737.97 L447.30,737.09 L448.30,736.22 L449.30,735.36 L450.30,734.50 L451.30,733.65 L452.30,732.81 L453.30,731.97 L454.30,731.15 L455.30,730.32 L456.30,729.51 L457.30,728.70 L458.30,727.90 L459.30,727.11 L460.30,726.32 L461.30,725.54 L462.30,724.77 L463.30,724.00 L464.30,723.24 L465.30,722.49 L466.30,721.74 L467.30,721.00 L468.30,720.27 L469.30,719.54 L470.30,718.82 L471.30,718.11 L472.30,717.40 L473.30,716.70 L474.30,716.00 L475.30,715.31 L476.30,714.63 L477.30,713.95 L478.30,713.28 L479.30,712.62 L480.30,711.96 L481.30,711.31 L482.30,710.67 L483.30,710.03 L484.30,709.39 L485.30,708.77 L486.30,708.14 L487.30,707.53 L488.30,706.92 L489.30,706.32 L490.30,705.72 L491.30,705.12 L492.30,704.54 L493.30,703.96 L494.30,703.38 L495.30,702.81 L496.30,702.25 L497.30,701.69 L498.30,701.14 L499.30,700.59 L500.30,700.05 L501.30,699.51 L502.30,698.98 L503.30,698.45 L504.30,697.93 L505.30,697.42 L506.30,696.91 L507.30,696.40 L508.30,695.90 L509.30,695.41 L510.30,694.92 L511.30,694.43 L512.30,693.95 L513.30,693.48 L514.30,693.01 L515.30,692.54 L516.30,692.08 L517.30,691.63 L518.30,691.18 L519.30,690.73 L520.30,690.29 L521.30,689.86 L522.30,689.42 L523.30,689.00 L524.30,688.58 L525.30,688.16 L526.30,687.75 L527.30,687.34 L528.30,686.93 L529.30,686.53 L530.30,686.14 L531.30,685.75 L532.30,685.36 L533.30,684.98 L534.30,684.60 L535.30,684.23 L536.30,683.86 L537.30,683.49 L538.30,683.13 L539.30,682.77 L540.30,682.42 L541.30,682.07 L542.30,681.73 L543.30,681.39 L544.30,681.05 L545.30,680.72 L546.30,680.39 L547.30,680.06 L548.30,679.74 L549.30,679.42 L550.30,679.11 L551.30,678.79 L552.30,678.49 L553.30,678.18 L554.30,677.88 L555.30,677.59 L556.30,677.29 L557.30,677.00 L558.30,676.72 L559.30,676.44 L560.30,676.16 L561.30,675.88 L562.30,675.61 L563.30,675.34 L564.30,675.07 L565.30,674.81 L566.30,674.55 L567.30,674.29 L568.30,674.04 L569.30,673.79 L570.30,673.54 L571.30,673.29 L572.30,673.05 L573.30,672.81 L574.30,672.58 L575.30,672.34 L576.30,672.11 L577.30,671.89 L578.30,671.66 L579.30,671.44 L580.30,671.22 L581.30,671.00 L582.30,670.79 L583.30,670.58 L584.30,670.37 L585.30,670.16 L586.30,669.96 L587.30,669.75 L588.30,669.55 L589.30,669.36 L590.30,669.16 L591.30,668.97 L592.30,668.78 L593.30,668.59 L594.30,668.41 L595.30,668.22 L596.30,668.04 L597.30,667.86 L598.30,667.69 L599.30,667.51 L600.30,667.34 L601.30,667.17 L602.30,667.00 L603.30,666.84 L604.30,666.68 L605.30,666.51 L606.30,666.36 L607.30,666.20 L608.30,666.04 L609.30,665.89 L610.30,665.74 L611.30,665.59 L612.30,665.45 L613.30,665.30 L614.30,665.16 L615.30,665.02 L616.30,664.88 L617.30,664.75 L618.30,664.61 L619.30,664.48 L620.30,664.35 L621.30,664.22 L622.30,664.10 L623.30,663.97 L624.30,663.85 L625.30,663.73 L626.30,663.61 L627.30,663.49 L628.30,663.38 L629.30,663.27 L630.30,663.16 L631.30,663.05 L632.30,662.94 L633.30,662.83 L634.30,662.73 L635.30,662.63 L636.30,662.53 L637.30,662.43 L638.30,662.33 L639.30,662.24 L640.30,662.14 L641.30,662.05 L642.30,661.96 L643.30,661.87 L644.30,661.79 L645.30,661.70 L646.30,661.62 L647.30,661.54 L648.30,661.46 L649.30,661.38 L650.30,661.30 L651.30,661.23 L652.30,661.15 L653.30,661.08 L654.30,661.01 L655.30,660.94 L656.30,660.87 L657.30,660.81 L658.30,660.74 L659.30,660.68 L660.30,660.62 L661.30,660.56 L662.30,660.50 L663.30,660.44 L664.30,660.39 L665.30,660.33 L666.30,660.28 L667.30,660.23 L668.30,660.18 L669.30,660.13 L670.30,660.08 L671.30,660.03 L672.30,659.99 L673.30,659.94 L674.30,659.90 L675.30,659.86 L676.30,659.82 L677.30,659.78 L678.30,659.74 L679.30,659.71 L680.30,659.67 L681.30,659.64 L682.30,659.60 L683.30,659.57 L684.30,659.54 L685.30,659.51 L686.30,659.48 L687.30,659.46 L688.30,659.43 L689.30,659.41 L690.30,659.38 L691.30,659.36 L692.30,659.34 L693.30,659.32 L694.30,659.30 L695.30,659.28 L696.30,659.26 L697.30,659.24 L698.30,659.23 L699.30,659.21 L700.30,659.20 L701.30,659.18 L702.30,659.17 L703.30,659.16 L704.30,659.15 L705.30,659.14 L706.30,659.13 L707.30,659.13 L708.30,659.12 L709.30,659.11 L710.30,659.11 L711.30,659.10 L712.30,659.10 L713.30,659.10 L714.30,659.09 L715.30,659.09 L716.30,659.09 L717.30,659.09 L718.30,659.09 L719.30,659.10 L720.30,659.10 L721.30,659.10 L722.30,659.10 L723.30,659.11 L724.30,659.11 L725.30,659.12 L726.30,659.12 L727.30,659.13 L728.30,659.14 L729.30,659.15 L730.30,659.15 L731.30,659.16 L732.30,659.17 L733.30,659.18 L734.30,659.19 L735.30,659.20 L736.30,659.22 L737.30,659.23 L738.30,659.24 L739.30,659.25 L740.30,659.27 L741.30,659.28 L742.30,659.29 L743.30,659.31 L744.30,659.32 L745.30,659.34 L746.30,659.35 L747.30,659.37 L748.30,659.39 L749.30,659.40 L750.30,659.42 L751.30,659.44 L752.30,659.45 L753.30,659.47 L754.30,659.49 L755.30,659.51 L756.30,659.53 L757.30,659.54 L758.30,659.56 L759.30,659.58 L760.30,659.60 L761.30,659.62 L762.30,659.64 L763.30,659.66 L764.30,659.68 L765.30,659.70 L766.30,659.72 L767.30,659.74 L768.30,659.76 L769.30,659.78 L770.30,659.80 L771.30,659.82 L772.30,659.84 L773.30,659.86 L774.30,659.88 L775.30,659.90 L776.30,659.92 L777.30,659.94 L778.30,659.96 L779.30,659.98 L780.30,660.00 L781.30,660.02 L782.30,660.04 L783.30,660.06 L784.30,660.08 L785.30,660.10 L786.30,660.11 L787.30,660.13 L788.30,660.15 L789.30,660.17 L790.30,660.19 L791.30,660.21 L792.30,660.22 L793.30,660.24 L794.30,660.26 L795.30,660.28 L796.30,660.29 L797.30,660.31 L798.30,660.32 L799.30,660.34 L800.30,660.36 L801.30,660.37 L802.30,660.39 L803.30,660.40 L804.30,660.41 L805.30,660.43 L806.30,660.44 L807.30,660.45 L808.30,660.46 L809.30,660.48 L810.30,660.49 L811.30,660.50 L812.30,660.51 L813.30,660.52 L814.30,660.53 L815.30,660.54 L816.30,660.54 L817.30,660.55 L818.30,660.56 L819.30,660.56 L820.30,660.57 L820.70,660.57" fill="none" stroke="#000" stroke-width="2.2" stroke-dasharray="6.7 2.65"/>
<path d="M292,773.3 L822,753.8" fill="none" stroke="#000" stroke-width="2.2" stroke-dasharray="6.7 2.65"/>
<circle cx="291.30" cy="947.7" r="6.9" fill="#000"/>
<circle cx="301.97" cy="947.7" r="6.9" fill="#000"/>
<circle cx="312.64" cy="931.6" r="6.9" fill="#000"/>
<circle cx="333.99" cy="903.1" r="6.9" fill="#000"/>
<circle cx="355.33" cy="860.0" r="6.9" fill="#000"/>
<circle cx="376.68" cy="806.7" r="6.9" fill="#000"/>
<circle cx="398.02" cy="794.6" r="6.9" fill="#000"/>
<circle cx="462.05" cy="715.0" r="6.9" fill="#000"/>
<circle cx="547.43" cy="687.9" r="6.9" fill="#000"/>
<circle cx="803.56" cy="667.8" r="6.9" fill="#000"/>
<path d="M291.30,766.50 L298.90,779.40 L283.70,779.40 Z" fill="none" stroke="#000" stroke-width="1.4"/>
<path d="M301.97,782.70 L309.57,795.60 L294.37,795.60 Z" fill="none" stroke="#000" stroke-width="1.4"/>
<path d="M312.64,764.80 L320.24,777.70 L305.04,777.70 Z" fill="none" stroke="#000" stroke-width="1.4"/>
<path d="M333.99,782.70 L341.59,795.60 L326.39,795.60 Z" fill="none" stroke="#000" stroke-width="1.4"/>
<path d="M355.33,766.50 L362.93,779.40 L347.73,779.40 Z" fill="none" stroke="#000" stroke-width="1.4"/>
<path d="M376.68,748.90 L384.28,761.80 L369.08,761.80 Z" fill="none" stroke="#000" stroke-width="1.4"/>
<path d="M398.02,762.80 L405.62,775.70 L390.42,775.70 Z" fill="none" stroke="#000" stroke-width="1.4"/>
<path d="M462.05,748.90 L469.65,761.80 L454.45,761.80 Z" fill="none" stroke="#000" stroke-width="1.4"/>
<path d="M547.43,749.30 L555.03,762.20 L539.83,762.20 Z" fill="none" stroke="#000" stroke-width="1.4"/>
<path d="M803.56,745.70 L811.16,758.60 L795.96,758.60 Z" fill="none" stroke="#000" stroke-width="1.4"/>
<rect x="291.3" y="554.5" width="533.60" height="399.50" fill="none" stroke="#000" stroke-width="2.2"/>
<line x1="291.30" y1="874.10" x2="311.80" y2="874.10" stroke="#000" stroke-width="2.2" />
<line x1="291.30" y1="794.20" x2="311.80" y2="794.20" stroke="#000" stroke-width="2.2" />
<line x1="291.30" y1="714.30" x2="311.80" y2="714.30" stroke="#000" stroke-width="2.2" />
<line x1="291.30" y1="634.40" x2="311.80" y2="634.40" stroke="#000" stroke-width="2.2" />
<line x1="291.30" y1="554.50" x2="311.80" y2="554.50" stroke="#000" stroke-width="2.2" />
<line x1="824.90" y1="874.10" x2="804.40" y2="874.10" stroke="#000" stroke-width="2.2" />
<line x1="824.90" y1="794.20" x2="804.40" y2="794.20" stroke="#000" stroke-width="2.2" />
<line x1="824.90" y1="714.30" x2="804.40" y2="714.30" stroke="#000" stroke-width="2.2" />
<line x1="824.90" y1="634.40" x2="804.40" y2="634.40" stroke="#000" stroke-width="2.2" />
<line x1="824.90" y1="554.50" x2="804.40" y2="554.50" stroke="#000" stroke-width="2.2" />
<line x1="398.02" y1="954.00" x2="398.02" y2="933.60" stroke="#000" stroke-width="2.2" />
<line x1="504.74" y1="954.00" x2="504.74" y2="933.60" stroke="#000" stroke-width="2.2" />
<line x1="611.46" y1="954.00" x2="611.46" y2="933.60" stroke="#000" stroke-width="2.2" />
<line x1="718.18" y1="954.00" x2="718.18" y2="933.60" stroke="#000" stroke-width="2.2" />
<g transform="matrix(1.0,0,0,1.01,0.000,-9.633)">
<text x="261.84" y="963.30" font-size="32.6" >0</text>
</g>
<g transform="matrix(1.0,0,0,1.01,0.000,-8.834)">
<text x="243.71" y="883.40" font-size="32.6" >20</text>
</g>
<g transform="matrix(1.0,0,0,1.01,0.000,-8.035)">
<text x="243.71" y="803.50" font-size="32.6" >40</text>
</g>
<g transform="matrix(1.0,0,0,1.01,0.000,-7.236)">
<text x="243.71" y="723.60" font-size="32.6" >60</text>
</g>
<g transform="matrix(1.0,0,0,1.01,0.000,-6.437)">
<text x="243.71" y="643.70" font-size="32.6" >80</text>
</g>
<g transform="matrix(1.0,0,0,1.01,0.000,-5.638)">
<text x="225.58" y="563.80" font-size="32.6" > 00</text>
<path class="g1" d="M540,0 L540,1237 L205,1010 L205,1180 L560,1409 L722,1409 L722,0 Z" transform="translate(225.58,563.80) scale(0.01592,-0.01592)"/>
</g>
<g transform="matrix(1.0,0,0,1.01,0.000,-9.637)">
<text x="835.93" y="963.70" font-size="32.6" >0</text>
</g>
<g transform="matrix(1.0,0,0,1.01,0.000,-8.838)">
<text x="835.89" y="883.80" font-size="32.6" >50</text>
</g>
<g transform="matrix(1.0,0,0,1.01,0.000,-8.039)">
<text x="834.72" y="803.90" font-size="32.6" > 00</text>
<path class="g1" d="M540,0 L540,1237 L205,1010 L205,1180 L560,1409 L722,1409 L722,0 Z" transform="translate(834.72,803.90) scale(0.01592,-0.01592)"/>
</g>
<g transform="matrix(1.0,0,0,1.01,0.000,-7.240)">
<text x="834.72" y="724.00" font-size="32.6" > 50</text>
<path class="g1" d="M540,0 L540,1237 L205,1010 L205,1180 L560,1409 L722,1409 L722,0 Z" transform="translate(834.72,724.00) scale(0.01592,-0.01592)"/>
</g>
<g transform="matrix(1.0,0,0,1.01,0.000,-6.441)">
<text x="835.56" y="644.10" font-size="32.6" >200</text>
</g>
<g transform="matrix(1.0,0,0,1.01,0.000,-5.642)">
<text x="835.56" y="564.20" font-size="32.6" >250</text>
</g>
<g transform="matrix(1.0,0,0,1.01,0.000,-9.928)">
<text x="281.93" y="992.80" font-size="32.6" >0</text>
</g>
<g transform="matrix(1.0,0,0,1.01,0.000,-9.928)">
<text x="378.98" y="992.80" font-size="32.6" > 0</text>
<path class="g1" d="M540,0 L540,1237 L205,1010 L205,1180 L560,1409 L722,1409 L722,0 Z" transform="translate(378.98,992.80) scale(0.01592,-0.01592)"/>
</g>
<g transform="matrix(1.0,0,0,1.01,0.000,-9.928)">
<text x="486.13" y="992.80" font-size="32.6" >20</text>
</g>
<g transform="matrix(1.0,0,0,1.01,0.000,-9.928)">
<text x="593.05" y="992.80" font-size="32.6" >30</text>
</g>
<g transform="matrix(1.0,0,0,1.01,0.000,-9.928)">
<text x="700.01" y="992.80" font-size="32.6" >40</text>
</g>
<g transform="matrix(1.0,0,0,1.01,0.000,-9.928)">
<text x="806.45" y="992.80" font-size="32.6" >50</text>
</g>
<g transform="translate(206.3,756.1) rotate(-90)">
<g transform="matrix(1.0,0,0,1.03,-0.000,-0.000)">
<text x="-170.40" y="0.00" font-size="32.9" >Peak height (arb. units)</text>
</g>
</g>
<g transform="translate(918.2,0) rotate(90)">
<g transform="matrix(1.0,0,0,1.03,0.000,-0.000)">
<text x="696.05" y="0.00" font-size="32.9" >2</text>
</g>
<path d="M0,436 L560,436 L560,525 L0,525 Z M71,0 L168,0 L168,436 L71,436 Z M421,0 L511,0 L511,436 L421,436 Z M482,0 L582,0 L814,721 L721,721 Z" transform="translate(715.90,0.00) scale(0.03290,-0.03290)"/>
<g class="gq" transform="matrix(0.03290,0,0.00720,-0.03389,741.93,0.00)"><path fill-rule="evenodd" d="M21,359 A368,378 0 1,0 757,359 A368,378 0 1,0 21,359 Z M107,359 A282,296 0 1,1 671,359 A282,296 0 1,1 107,359 Z "/><path d="M470.4,213.5 L760.4,-6.5 L709.6,-73.5 L419.6,146.5 Z"/></g>
<g transform="matrix(1.0,0,0,1.03,0.000,-0.000)">
<text x="776.96" y="0.00" font-size="32.9" >(Å)</text>
</g>
</g>
<g transform="matrix(1.0,0,0,1.03,0.000,-31.173)">
<text x="393.24" y="1039.10" font-size="32.9" >Annealing duration (h)</text>
</g>
<text x="403.50" y="650.00" font-size="28" >Peak height</text>
<path d="M466.2,665.8 L392,665.8" stroke="#000" stroke-width="2"/>
<path d="M379.5,665.8 L393.6,659.5 L393.6,672.1 Z" fill="#000"/>
<path d="M585,788.4 L706,788.4" stroke="#000" stroke-width="2"/>
<path d="M718.2,788.4 L704.5,781.8 L704.5,795 Z" fill="#000"/>
<text x="601.26" y="824.80" font-size="28" font-style="italic" >d</text>
<rect x="625.8" y="813.4" width="13.8" height="2.4"/><rect x="625.8" y="819.1" width="13.8" height="2.4"/>
<text x="648.09" y="824.80" font-size="28" >2</text>
<path d="M0,436 L560,436 L560,525 L0,525 Z M71,0 L168,0 L168,436 L71,436 Z M421,0 L511,0 L511,436 L421,436 Z M482,0 L582,0 L814,721 L721,721 Z" transform="translate(665.10,824.80) scale(0.02800,-0.02800)"/>
<g class="gq" transform="matrix(0.02800,0,0.00595,-0.02800,688.42,824.80)"><path fill-rule="evenodd" d="M21,359 A368,378 0 1,0 757,359 A368,378 0 1,0 21,359 Z M107,359 A282,296 0 1,1 671,359 A282,296 0 1,1 107,359 Z "/><path d="M470.4,213.5 L760.4,-6.5 L709.6,-73.5 L419.6,146.5 Z"/></g>
</svg>
</body></html>
